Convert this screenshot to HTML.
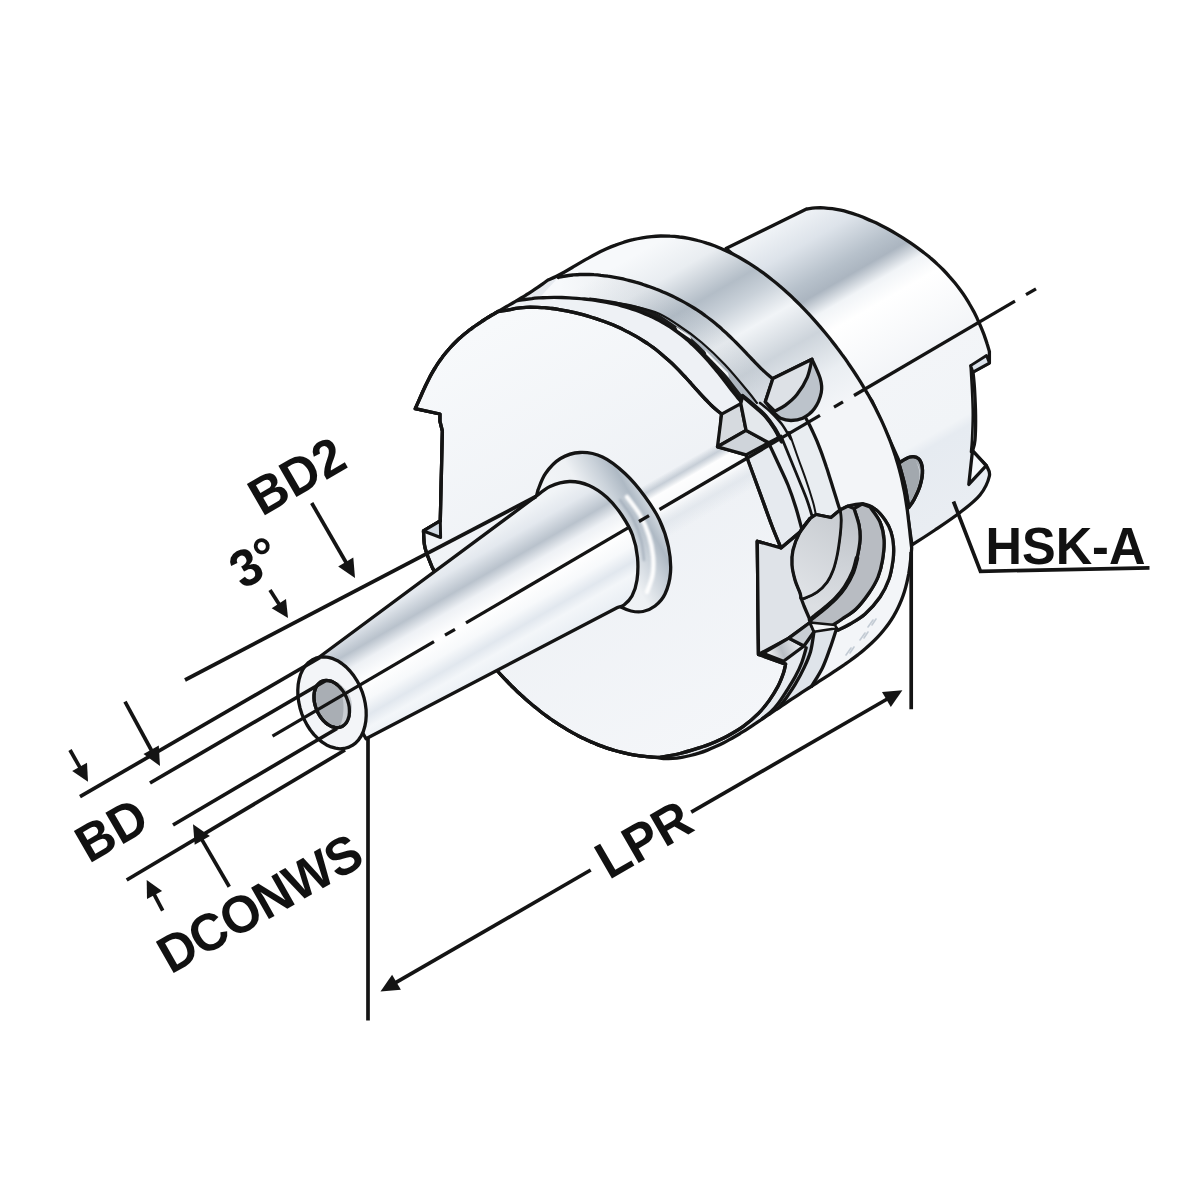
<!DOCTYPE html>
<html lang="en"><head><meta charset="utf-8"><title>HSK-A shrink fit chuck drawing</title>
<style>
html,body{margin:0;padding:0;background:#fff;}
body{width:1200px;height:1200px;overflow:hidden;}
svg{display:block;}
text{font-family:"Liberation Sans",sans-serif;font-weight:bold;fill:#111;}
</style></head><body>
<svg width="1200" height="1200" viewBox="0 0 1200 1200">
<rect width="1200" height="1200" fill="#fff"/>
<defs>
<linearGradient id="gShank" gradientUnits="userSpaceOnUse" x1="727" y1="249" x2="898" y2="545">
<stop offset="0" stop-color="#f2f5f8"/><stop offset="0.10" stop-color="#dde3ea"/><stop offset="0.20" stop-color="#b7c1cb"/><stop offset="0.245" stop-color="#abb5c0"/>
<stop offset="0.30" stop-color="#f1f4f7"/><stop offset="0.36" stop-color="#ffffff"/><stop offset="0.55" stop-color="#f3f5f8"/><stop offset="0.77" stop-color="#f1f4f7"/><stop offset="0.80" stop-color="#e6ebf1"/><stop offset="1" stop-color="#e9edf2"/></linearGradient>
<linearGradient id="gRear" gradientUnits="userSpaceOnUse" x1="600" y1="275" x2="716.5" y2="476.8">
<stop offset="0" stop-color="#f7f9fb"/><stop offset="0.15" stop-color="#e9edf1"/><stop offset="0.31" stop-color="#b3bdc7"/><stop offset="0.40" stop-color="#c9d1d9"/>
<stop offset="0.52" stop-color="#f1f4f7"/><stop offset="0.68" stop-color="#cdd4db"/><stop offset="0.85" stop-color="#eaeef2"/><stop offset="1" stop-color="#f3f5f8"/></linearGradient>
<linearGradient id="gNose" gradientUnits="userSpaceOnUse" x1="445" y1="554" x2="515" y2="675.2">
<stop offset="0" stop-color="#f1f4f7"/><stop offset="0.13" stop-color="#e3e8ee"/><stop offset="0.27" stop-color="#b9c2cc"/><stop offset="0.37" stop-color="#eef1f5"/>
<stop offset="0.5" stop-color="#ffffff"/><stop offset="0.62" stop-color="#f7f9fb"/><stop offset="0.72" stop-color="#e1e7ee"/><stop offset="0.80" stop-color="#f3f6f9"/><stop offset="1" stop-color="#e4eaf1"/></linearGradient>
<linearGradient id="gCollar" gradientUnits="userSpaceOnUse" x1="545" y1="560" x2="657.6" y2="495">
<stop offset="0" stop-color="#f6f8fa"/><stop offset="0.51" stop-color="#eef1f4"/><stop offset="0.70" stop-color="#c9d1d9"/><stop offset="0.82" stop-color="#aeb9c4"/><stop offset="0.92" stop-color="#d3dae1"/><stop offset="1" stop-color="#eceff3"/></linearGradient>
<linearGradient id="gFace" gradientUnits="userSpaceOnUse" x1="480" y1="330" x2="700" y2="750">
<stop offset="0" stop-color="#f7f9fb"/><stop offset="0.5" stop-color="#eef1f5"/><stop offset="1" stop-color="#f4f6f9"/></linearGradient>
<linearGradient id="gGroove" gradientUnits="userSpaceOnUse" x1="560" y1="290" x2="640" y2="290">
<stop offset="0" stop-color="#9aa4ae" stop-opacity="0"/><stop offset="1" stop-color="#9aa4ae" stop-opacity="0.15"/></linearGradient>
<linearGradient id="gDisc" gradientUnits="userSpaceOnUse" x1="795" y1="590" x2="840" y2="520">
<stop offset="0" stop-color="#dfe2e6"/><stop offset="1" stop-color="#c9cdd2"/></linearGradient>
<linearGradient id="gWall" gradientUnits="userSpaceOnUse" x1="850" y1="510" x2="830" y2="610">
<stop offset="0" stop-color="#bcc0c6"/><stop offset="0.5" stop-color="#cdd1d6"/><stop offset="1" stop-color="#dcdfe3"/></linearGradient>
<linearGradient id="gFloor" gradientUnits="userSpaceOnUse" x1="765" y1="655" x2="800" y2="640">
<stop offset="0" stop-color="#ffffff"/><stop offset="0.45" stop-color="#b9bec4"/><stop offset="1" stop-color="#eef0f3"/></linearGradient>
<linearGradient id="gRefl" gradientUnits="userSpaceOnUse" x1="706" y1="435" x2="741" y2="495.6">
<stop offset="0" stop-color="#bcc5cf" stop-opacity="0"/><stop offset="0.18" stop-color="#bcc5cf" stop-opacity="0"/><stop offset="0.29" stop-color="#bcc5cf" stop-opacity="0.8"/>
<stop offset="0.40" stop-color="#ffffff" stop-opacity="0.9"/><stop offset="0.62" stop-color="#ffffff" stop-opacity="0.6"/><stop offset="0.8" stop-color="#d5dce4" stop-opacity="0.45"/><stop offset="1" stop-color="#d5dce4" stop-opacity="0"/></linearGradient>
<filter id="fBlur" x="-20%" y="-20%" width="140%" height="140%"><feGaussianBlur stdDeviation="1.1"/></filter>
</defs>
<path d="M726 248.5 L806.5 209 C808 208.8 812.4 208.1 815.3 207.9 C818.2 207.7 821 207.7 823.9 207.8 C826.7 208 829.6 208.3 832.4 208.7 C835.2 209.1 837.9 209.6 840.7 210.2 C843.5 210.8 846.2 211.6 848.9 212.4 C851.7 213.2 854.4 214.1 857.1 215 C859.7 216 862.4 217 865.1 218.1 C867.7 219.2 870.4 220.4 873 221.6 C875.6 222.7 878.2 224 880.7 225.3 C883.3 226.6 885.9 227.9 888.4 229.3 C890.9 230.7 893.4 232.1 895.9 233.6 C898.4 235.1 900.9 236.6 903.3 238.1 C905.7 239.6 908.1 241.2 910.5 242.8 C912.9 244.4 915.2 246.1 917.5 247.8 C919.8 249.5 922.1 251.2 924.3 253 C926.6 254.7 928.8 256.5 930.9 258.4 C933.1 260.2 935.2 262.1 937.3 264.1 C939.4 266 941.4 268 943.4 270 C945.4 272.1 947.3 274.1 949.2 276.3 C951.1 278.4 953 280.6 954.8 282.8 C956.6 285 958.3 287.3 960 289.6 C961.7 291.9 963.4 294.2 965 296.7 C966.5 299.1 968.1 301.5 969.5 304 C971 306.5 972.4 309 973.8 311.6 C975.1 314.2 976.4 316.8 977.6 319.4 C978.9 322 980 324.7 981.1 327.4 C982.2 330 983.3 332.7 984.3 335.4 C985.2 338.1 986.2 340.8 987 343.5 C987.9 346.2 989 350.2 989.4 351.5 L989.4 363 L973 372 C973.3 375 974.2 382.8 974.6 390 C975 397.2 975.5 406.7 975.6 415 C975.7 423.3 975.5 434 975 440 C974.5 446 972.9 449.2 972.5 451 L986.5 465.6 C987 467.3 990.5 471.1 989.4 476 C988.3 480.9 984.9 488.9 980 495 C975.1 501.1 967.5 506.7 960 512.5 C952.5 518.3 943 524.6 935 530 C927 535.4 915.8 542.5 912 545 L900 463 L872 401 L818.8 326Z" fill="url(#gShank)" stroke="#141414" stroke-width="3.3" stroke-linejoin="round" stroke-linecap="round" />
<path d="M970.6 365.6 L986.5 355.5 L989.4 363 L973 372Z" fill="#dbe2ea" stroke="#141414" stroke-width="2.8" stroke-linejoin="round" stroke-linecap="round" />
<path d="M970.6 365.6 C970.8 369.7 971.6 381.8 972 390 C972.4 398.2 972.8 406.7 972.8 415 C972.8 423.3 972.3 433.8 972 440 C971.7 446.2 971.2 450 971 452" fill="none" stroke="#141414" stroke-width="2.6" stroke-linecap="round" stroke-linejoin="round" />
<path d="M972.5 450.6 L986.2 465.6 L968.8 484.4Z" fill="#f7f9fb" stroke="#141414" stroke-width="3.3" stroke-linejoin="round" stroke-linecap="round" />
<path d="M415.3 408.7 C415.7 407.7 417 404.9 417.9 402.9 C418.8 401 419.6 399 420.5 397 C421.4 395 422.2 393 423.1 391 C424.1 389 425 387 425.9 385 C426.9 383 427.9 381 428.9 379 C429.9 377 430.9 375.1 432 373.2 C433.1 371.2 434.2 369.3 435.4 367.5 C436.5 365.6 437.7 363.8 439 361.9 C440.2 360.1 441.5 358.4 442.8 356.6 C444.1 354.9 445.5 353.2 446.9 351.5 C448.3 349.9 449.7 348.2 451.2 346.6 C452.7 345 454.2 343.5 455.7 342 C457.3 340.5 458.9 339 460.5 337.6 C462.1 336.1 463.8 334.7 465.5 333.3 C467.2 332 468.9 330.6 470.6 329.3 C472.4 328 474.1 326.7 475.9 325.5 C477.7 324.2 479.5 323 481.3 321.8 C483.2 320.6 485 319.4 486.9 318.2 C488.7 317.1 490.6 315.9 492.5 314.8 C494.3 313.7 496.2 312.6 498.1 311.5 C500 310.3 501.9 309.2 503.8 308.1 C505.7 307 507.6 306 509.5 304.9 C511.4 303.8 513.3 302.7 515.1 301.6 C517 300.5 518.9 299.3 520.7 298.2 C522.6 297.1 524.5 296 526.3 294.8 C528.2 293.7 530 292.5 531.8 291.3 C533.7 290.1 535.5 288.9 537.3 287.7 C539.1 286.5 540.9 285.2 542.7 283.9 C544.4 282.6 547.1 280.7 548 280 C549.3 279.4 553.4 277.7 556 276.4 C558.7 275.1 561.4 273.7 564.1 272.2 C566.7 270.7 569.4 269.1 572.2 267.5 C574.9 265.9 577.6 264.2 580.4 262.6 C583.1 261 585.9 259.4 588.8 257.9 C591.6 256.3 594.4 254.8 597.3 253.3 C600.2 251.8 603.1 250.4 606 249.1 C608.9 247.8 611.9 246.5 614.9 245.4 C617.9 244.2 620.9 243.2 623.9 242.2 C626.9 241.3 630 240.4 633 239.7 C636.1 238.9 639.1 238.3 642.2 237.8 C645.3 237.3 648.4 236.9 651.5 236.6 C654.6 236.3 657.7 236.1 660.8 236 C663.9 236 667 236 670.1 236.2 C673.2 236.3 676.3 236.6 679.4 237 C682.5 237.3 685.5 237.8 688.6 238.4 C691.7 239 694.7 239.7 697.7 240.5 C700.7 241.2 703.7 242.1 706.7 243.1 C709.7 244 712.6 245.1 715.6 246.2 C718.5 247.4 721.4 248.6 724.2 249.9 C727.1 251.2 730 252.5 732.8 254 C735.6 255.4 738.4 256.9 741.1 258.5 C743.8 260.1 746.5 261.7 749.2 263.4 C751.9 265.1 754.5 266.8 757.2 268.6 C759.8 270.4 762.3 272.3 764.9 274.1 C767.4 276 769.9 278 772.4 280 C774.9 281.9 777.3 283.9 779.7 286 C782.1 288 784.5 290.1 786.8 292.3 C789.2 294.4 791.5 296.5 793.7 298.7 C796 300.9 798.3 303.1 800.5 305.3 C802.7 307.6 804.9 309.8 807 312.1 C809.2 314.4 811.3 316.7 813.4 319.1 C815.5 321.4 817.5 323.7 819.6 326.1 C821.6 328.5 823.6 330.9 825.6 333.3 C827.6 335.7 829.6 338.1 831.5 340.6 C833.5 343.1 835.4 345.5 837.2 348 C839.1 350.5 841 353 842.8 355.6 C844.7 358.1 846.5 360.6 848.2 363.2 C850 365.8 851.8 368.4 853.5 371 C855.2 373.6 856.9 376.2 858.6 378.9 C860.3 381.5 861.9 384.2 863.5 386.9 C865.2 389.6 866.7 392.3 868.3 395 C869.8 397.7 871.4 400.5 872.8 403.3 C874.3 406 875.8 408.8 877.2 411.7 C878.6 414.5 880 417.3 881.3 420.2 C882.6 423 883.9 425.9 885.2 428.8 C886.4 431.7 887.6 434.6 888.8 437.5 C889.9 440.5 891.1 443.4 892.1 446.4 C893.2 449.4 894.2 452.4 895.2 455.4 C896.1 458.4 897.1 461.4 897.9 464.4 C898.8 467.5 899.6 470.5 900.4 473.6 C901.2 476.6 901.9 479.7 902.5 482.8 C903.2 485.9 903.8 488.9 904.4 492 C905 495.1 905.5 498.2 906 501.4 C906.5 504.5 906.9 507.6 907.4 510.7 C907.8 513.8 908.1 516.9 908.5 520 C908.9 523.2 909.2 526.3 909.6 529.4 C909.9 532.5 910.2 535.6 910.6 538.7 C910.9 541.8 911.5 546.5 911.7 548 C911.6 549.4 911.3 553.5 911 556.4 C910.7 559.2 910.4 562.2 910 565.1 C909.6 568.1 909.2 571.1 908.7 574 C908.1 577 907.5 580 906.8 582.9 C906.1 585.9 905.3 588.8 904.4 591.7 C903.5 594.5 902.5 597.4 901.4 600.2 C900.3 602.9 899.1 605.7 897.8 608.3 C896.5 611 895.1 613.6 893.6 616.1 C892.1 618.6 890.5 621.1 888.8 623.5 C887.1 625.9 885.3 628.2 883.4 630.5 C881.6 632.8 879.6 635 877.6 637.1 C875.6 639.2 873.5 641.3 871.4 643.3 C869.2 645.4 867 647.3 864.7 649.2 C862.5 651.2 860.2 653 857.8 654.9 C855.5 656.7 853.1 658.5 850.7 660.2 C848.3 662 845.8 663.7 843.4 665.4 C840.9 667.1 838.4 668.8 835.9 670.4 C833.4 672.1 830.9 673.7 828.4 675.4 C825.9 677 823.4 678.6 820.9 680.2 C818.3 681.8 815.8 683.5 813.3 685.1 C810.8 686.7 808.3 688.3 805.8 689.9 C803.3 691.5 800.8 693.1 798.3 694.8 C795.9 696.4 793.4 698 790.9 699.6 C788.5 701.3 786 702.9 783.6 704.6 C781.1 706.2 778.7 707.9 776.2 709.5 C773.8 711.2 771.4 712.9 768.9 714.5 C766.5 716.2 764 717.8 761.6 719.5 C759.2 721.1 756.7 722.8 754.2 724.4 C751.8 726 749.3 727.7 746.8 729.3 C744.3 730.9 741.8 732.4 739.3 734 C736.7 735.5 734.2 737 731.6 738.5 C729 739.9 726.4 741.4 723.8 742.7 C721.1 744.1 718.4 745.4 715.7 746.6 C713 747.8 710.3 749 707.5 750.1 C704.7 751.2 701.9 752.2 699 753.1 C696.2 754 693.3 754.8 690.4 755.5 C687.5 756.2 684.6 756.8 681.7 757.3 C678.7 757.8 675.8 758.2 672.8 758.4 C669.9 758.6 665.5 758.7 664 758.7 C662.2 758.4 656.3 757.4 653.4 757.1 C650.6 756.8 649.1 756.8 646.9 756.6 C644.7 756.4 642.5 756.2 640.4 755.9 C638.2 755.6 636.1 755.3 633.9 754.9 C631.8 754.5 629.6 754.1 627.5 753.7 C625.4 753.2 623.3 752.7 621.2 752.2 C619.1 751.7 617 751.1 614.9 750.5 C612.8 749.9 610.7 749.3 608.7 748.6 C606.6 747.9 604.5 747.2 602.5 746.4 C600.5 745.7 598.4 744.9 596.4 744.1 C594.4 743.3 592.4 742.4 590.4 741.6 C588.4 740.7 586.4 739.8 584.5 738.8 C582.5 737.9 580.6 736.9 578.6 735.9 C576.7 734.9 574.8 733.9 572.9 732.9 C571 731.8 569.1 730.7 567.2 729.6 C565.3 728.5 563.5 727.4 561.6 726.2 C559.8 725.1 557.9 723.9 556.1 722.7 C554.3 721.5 552.5 720.2 550.7 719 C548.9 717.7 547.2 716.5 545.4 715.2 C543.7 713.9 541.9 712.5 540.2 711.2 C538.5 709.9 536.8 708.5 535.1 707.1 C533.4 705.8 531.7 704.4 530.1 702.9 C528.4 701.5 526.8 700.1 525.2 698.7 C523.5 697.2 521.9 695.7 520.3 694.3 C518.7 692.8 517.1 691.3 515.6 689.8 C514 688.3 512.5 686.7 510.9 685.2 C509.4 683.7 507.9 682.1 506.4 680.5 C504.9 679 503.4 677.4 501.9 675.8 C500.4 674.2 498.2 671.8 497.5 671 L432.5 568 C431.6 565.7 428.3 557.8 427 554 C425.7 550.2 425.1 548.8 424.5 545 C423.9 541.2 423.7 533.3 423.5 531 L440.3 521 L442.4 431 L440 421.3 L440 414Z" fill="#e6eaef" stroke="none" />
<path d="M558.3 277.5 C559.5 277.3 563.2 276.4 565.6 276 C568 275.6 570.4 275.3 572.8 275 C575.2 274.8 577.5 274.6 579.9 274.5 C582.2 274.4 584.6 274.4 586.9 274.4 C589.3 274.5 591.6 274.5 593.9 274.7 C596.3 274.8 598.6 275 600.9 275.3 C603.2 275.5 605.6 275.8 607.9 276.2 C610.2 276.5 612.5 276.9 614.8 277.3 C617.1 277.7 619.4 278.2 621.7 278.7 C624 279.2 626.3 279.8 628.6 280.3 C630.9 280.9 633.2 281.5 635.5 282.2 C637.7 282.8 640 283.5 642.3 284.2 C644.5 285 646.8 285.7 649 286.5 C651.3 287.3 653.5 288.1 655.8 289 C658 289.8 660.2 290.7 662.4 291.7 C664.6 292.6 666.8 293.5 668.9 294.5 C671.1 295.5 673.3 296.5 675.4 297.6 C677.5 298.7 679.6 299.8 681.7 300.9 C683.8 302 685.9 303.2 687.9 304.4 C690 305.6 692 306.8 694 308 C696 309.3 698 310.6 700 311.9 C701.9 313.3 703.8 314.6 705.7 316 C707.7 317.4 709.5 318.8 711.4 320.3 C713.2 321.7 715.1 323.2 716.9 324.7 C718.7 326.3 720.5 327.8 722.2 329.4 C724 330.9 725.8 332.5 727.5 334.2 C729.2 335.8 730.9 337.4 732.6 339.1 C734.3 340.7 735.9 342.4 737.6 344.1 C739.3 345.8 740.9 347.5 742.5 349.2 C744.2 350.9 745.8 352.7 747.4 354.4 C749.1 356.1 750.7 357.8 752.3 359.5 C754 361.2 755.6 362.9 757.3 364.6 C759 366.3 760.6 368 762.3 369.6 C764.1 371.3 765.8 372.9 767.6 374.4 C769.3 376 772.1 378.2 773 379 L812 359 L821 396 L805 416.7 C805.7 418 808 422 809.4 424.7 C810.7 427.4 812.1 430.2 813.3 432.9 C814.6 435.7 815.8 438.4 817 441.2 C818.1 444 819.2 446.8 820.3 449.7 C821.4 452.5 822.4 455.3 823.4 458.2 C824.4 461 825.4 463.9 826.3 466.8 C827.3 469.6 828.2 472.5 829.1 475.4 C830 478.3 830.9 481.2 831.8 484 C832.7 486.9 833.6 489.8 834.5 492.7 C835.4 495.6 836.3 498.5 837.2 501.4 C838.1 504.3 839.5 508.6 840 510 L863 504 L893 560 L880 597 L836.7 628 C835.9 631.1 834 640.2 831.7 646.7 C829.4 653.2 826.3 660 823 666.7 C819.7 673.4 813.6 683.4 811.7 686.7 C813.6 685.6 818.3 683.5 823 680 C827.7 676.5 833.8 670.5 840 666 C846.2 661.5 854 657.5 860 653 C866 648.5 871.3 643.8 876 639 C880.7 634.2 884.3 629.3 888 624 C891.7 618.7 895.2 612.7 898 607 C900.8 601.3 903.2 595.3 905 590 C906.8 584.7 907.4 582 908.5 575 C909.6 568 911.2 552.5 911.7 548 C911.5 546.5 910.9 541.8 910.6 538.7 C910.2 535.6 909.9 532.5 909.6 529.4 C909.2 526.3 908.9 523.2 908.5 520 C908.1 516.9 907.8 513.8 907.4 510.7 C906.9 507.6 906.5 504.5 906 501.4 C905.5 498.2 905 495.1 904.4 492 C903.8 488.9 903.2 485.9 902.5 482.8 C901.9 479.7 901.2 476.6 900.4 473.6 C899.6 470.5 898.8 467.5 897.9 464.4 C897.1 461.4 896.1 458.4 895.2 455.4 C894.2 452.4 893.2 449.4 892.1 446.4 C891.1 443.4 889.9 440.5 888.8 437.5 C887.6 434.6 886.4 431.7 885.2 428.8 C883.9 425.9 882.6 423 881.3 420.2 C880 417.3 878.6 414.5 877.2 411.7 C875.8 408.8 874.3 406 872.8 403.3 C871.4 400.5 869.8 397.7 868.3 395 C866.7 392.3 865.2 389.6 863.5 386.9 C861.9 384.2 860.3 381.5 858.6 378.9 C856.9 376.2 855.2 373.6 853.5 371 C851.8 368.4 850 365.8 848.2 363.2 C846.5 360.6 844.7 358.1 842.8 355.6 C841 353 839.1 350.5 837.2 348 C835.4 345.5 833.5 343.1 831.5 340.6 C829.6 338.1 827.6 335.7 825.6 333.3 C823.6 330.9 821.6 328.5 819.6 326.1 C817.5 323.7 815.5 321.4 813.4 319.1 C811.3 316.7 809.2 314.4 807 312.1 C804.9 309.8 802.7 307.6 800.5 305.3 C798.3 303.1 796 300.9 793.7 298.7 C791.5 296.5 789.2 294.4 786.8 292.3 C784.5 290.1 782.1 288 779.7 286 C777.3 283.9 774.9 281.9 772.4 280 C769.9 278 767.4 276 764.9 274.1 C762.3 272.3 759.8 270.4 757.2 268.6 C754.5 266.8 751.9 265.1 749.2 263.4 C746.5 261.7 743.8 260.1 741.1 258.5 C738.4 256.9 735.6 255.4 732.8 254 C730 252.5 727.1 251.2 724.2 249.9 C721.4 248.6 718.5 247.4 715.6 246.2 C712.6 245.1 709.7 244 706.7 243.1 C703.7 242.1 700.7 241.2 697.7 240.5 C694.7 239.7 691.7 239 688.6 238.4 C685.5 237.8 682.5 237.3 679.4 237 C676.3 236.6 673.2 236.3 670.1 236.2 C667 236 663.9 236 660.8 236 C657.7 236.1 654.6 236.3 651.5 236.6 C648.4 236.9 645.3 237.3 642.2 237.8 C639.1 238.3 636.1 238.9 633 239.7 C630 240.4 626.9 241.3 623.9 242.2 C620.9 243.2 617.9 244.2 614.9 245.4 C611.9 246.5 608.9 247.8 606 249.1 C603.1 250.4 600.2 251.8 597.3 253.3 C594.4 254.8 591.6 256.3 588.8 257.9 C585.9 259.4 583.1 261 580.4 262.6 C577.6 264.2 574.9 265.9 572.2 267.5 C569.4 269.1 566.7 270.7 564.1 272.2 C561.4 273.7 557.4 275.7 556 276.4Z" fill="url(#gRear)" stroke="none" />
<path d="M539.3 297.9 C540.6 297.9 544.3 297.7 546.8 297.6 C549.3 297.5 551.8 297.4 554.3 297.4 C556.8 297.4 559.3 297.4 561.8 297.5 C564.3 297.6 566.8 297.7 569.3 297.8 C571.9 297.9 574.4 298.1 576.9 298.3 C579.4 298.5 581.9 298.7 584.4 299 C586.9 299.3 589.4 299.6 592 299.9 C594.5 300.2 597 300.6 599.4 301 C601.9 301.4 604.4 301.9 606.9 302.4 C609.3 302.9 611.8 303.4 614.2 304 C616.7 304.5 619.1 305.1 621.5 305.8 C623.9 306.5 626.3 307.2 628.7 307.9 C631.1 308.6 633.5 309.4 635.8 310.3 C638.1 311.1 640.5 312 642.8 312.9 C645 313.8 647.3 314.8 649.6 315.8 C651.8 316.9 654 317.9 656.2 319.1 C658.4 320.2 660.6 321.4 662.7 322.6 C664.9 323.8 667 325.1 669.1 326.4 C671.2 327.8 673.2 329.1 675.3 330.6 C677.3 332 679.3 333.5 681.2 335 C683.2 336.6 685.2 338.1 687.1 339.8 C689 341.4 690.8 343.1 692.7 344.8 C694.5 346.5 696.4 348.3 698.1 350 C699.9 351.8 701.7 353.7 703.4 355.5 C705.2 357.4 706.9 359.3 708.5 361.2 C710.2 363.2 711.9 365.1 713.5 367.1 C715.2 369.1 716.8 371.1 718.4 373 C720 375 721.5 377 723.1 379 C724.6 381 726.2 383 727.7 385 C729.3 387 730.8 389 732.3 390.9 C733.8 392.8 735.3 394.7 736.8 396.6 C738.4 398.4 740.6 401.1 741.4 402 L742.6 396 L765.3 415.8 L773 379 C772.1 378.2 769.3 376 767.6 374.4 C765.8 372.9 764.1 371.3 762.3 369.6 C760.6 368 759 366.3 757.3 364.6 C755.6 362.9 754 361.2 752.3 359.5 C750.7 357.8 749.1 356.1 747.4 354.4 C745.8 352.7 744.2 350.9 742.5 349.2 C740.9 347.5 739.3 345.8 737.6 344.1 C735.9 342.4 734.3 340.7 732.6 339.1 C730.9 337.4 729.2 335.8 727.5 334.2 C725.8 332.5 724 330.9 722.2 329.4 C720.5 327.8 718.7 326.3 716.9 324.7 C715.1 323.2 713.2 321.7 711.4 320.3 C709.5 318.8 707.7 317.4 705.7 316 C703.8 314.6 701.9 313.3 700 311.9 C698 310.6 696 309.3 694 308 C692 306.8 690 305.6 687.9 304.4 C685.9 303.2 683.8 302 681.7 300.9 C679.6 299.8 677.5 298.7 675.4 297.6 C673.3 296.5 671.1 295.5 668.9 294.5 C666.8 293.5 664.6 292.6 662.4 291.7 C660.2 290.7 658 289.8 655.8 289 C653.5 288.1 651.3 287.3 649 286.5 C646.8 285.7 644.5 285 642.3 284.2 C640 283.5 637.7 282.8 635.5 282.2 C633.2 281.5 630.9 280.9 628.6 280.3 C626.3 279.8 624 279.2 621.7 278.7 C619.4 278.2 617.1 277.7 614.8 277.3 C612.5 276.9 610.2 276.5 607.9 276.2 C605.6 275.8 603.2 275.5 600.9 275.3 C598.6 275 596.3 274.8 593.9 274.7 C591.6 274.5 589.3 274.5 586.9 274.4 C584.6 274.4 582.2 274.4 579.9 274.5 C577.5 274.6 575.2 274.8 572.8 275 C570.4 275.3 568 275.6 565.6 276 C563.2 276.4 559.5 277.3 558.3 277.5Z" fill="url(#gRear)" stroke="none" />
<path d="M539.3 297.9 C540.6 297.9 544.3 297.7 546.8 297.6 C549.3 297.5 551.8 297.4 554.3 297.4 C556.8 297.4 559.3 297.4 561.8 297.5 C564.3 297.6 566.8 297.7 569.3 297.8 C571.9 297.9 574.4 298.1 576.9 298.3 C579.4 298.5 581.9 298.7 584.4 299 C586.9 299.3 589.4 299.6 592 299.9 C594.5 300.2 597 300.6 599.4 301 C601.9 301.4 604.4 301.9 606.9 302.4 C609.3 302.9 611.8 303.4 614.2 304 C616.7 304.5 619.1 305.1 621.5 305.8 C623.9 306.5 626.3 307.2 628.7 307.9 C631.1 308.6 633.5 309.4 635.8 310.3 C638.1 311.1 640.5 312 642.8 312.9 C645 313.8 647.3 314.8 649.6 315.8 C651.8 316.9 654 317.9 656.2 319.1 C658.4 320.2 660.6 321.4 662.7 322.6 C664.9 323.8 667 325.1 669.1 326.4 C671.2 327.8 673.2 329.1 675.3 330.6 C677.3 332 679.3 333.5 681.2 335 C683.2 336.6 685.2 338.1 687.1 339.8 C689 341.4 690.8 343.1 692.7 344.8 C694.5 346.5 696.4 348.3 698.1 350 C699.9 351.8 701.7 353.7 703.4 355.5 C705.2 357.4 706.9 359.3 708.5 361.2 C710.2 363.2 711.9 365.1 713.5 367.1 C715.2 369.1 716.8 371.1 718.4 373 C720 375 721.5 377 723.1 379 C724.6 381 726.2 383 727.7 385 C729.3 387 730.8 389 732.3 390.9 C733.8 392.8 735.3 394.7 736.8 396.6 C738.4 398.4 740.6 401.1 741.4 402 L742.6 396 L765.3 415.8 L773 379 C772.1 378.2 769.3 376 767.6 374.4 C765.8 372.9 764.1 371.3 762.3 369.6 C760.6 368 759 366.3 757.3 364.6 C755.6 362.9 754 361.2 752.3 359.5 C750.7 357.8 749.1 356.1 747.4 354.4 C745.8 352.7 744.2 350.9 742.5 349.2 C740.9 347.5 739.3 345.8 737.6 344.1 C735.9 342.4 734.3 340.7 732.6 339.1 C730.9 337.4 729.2 335.8 727.5 334.2 C725.8 332.5 724 330.9 722.2 329.4 C720.5 327.8 718.7 326.3 716.9 324.7 C715.1 323.2 713.2 321.7 711.4 320.3 C709.5 318.8 707.7 317.4 705.7 316 C703.8 314.6 701.9 313.3 700 311.9 C698 310.6 696 309.3 694 308 C692 306.8 690 305.6 687.9 304.4 C685.9 303.2 683.8 302 681.7 300.9 C679.6 299.8 677.5 298.7 675.4 297.6 C673.3 296.5 671.1 295.5 668.9 294.5 C666.8 293.5 664.6 292.6 662.4 291.7 C660.2 290.7 658 289.8 655.8 289 C653.5 288.1 651.3 287.3 649 286.5 C646.8 285.7 644.5 285 642.3 284.2 C640 283.5 637.7 282.8 635.5 282.2 C633.2 281.5 630.9 280.9 628.6 280.3 C626.3 279.8 624 279.2 621.7 278.7 C619.4 278.2 617.1 277.7 614.8 277.3 C612.5 276.9 610.2 276.5 607.9 276.2 C605.6 275.8 603.2 275.5 600.9 275.3 C598.6 275 596.3 274.8 593.9 274.7 C591.6 274.5 589.3 274.5 586.9 274.4 C584.6 274.4 582.2 274.4 579.9 274.5 C577.5 274.6 575.2 274.8 572.8 275 C570.4 275.3 568 275.6 565.6 276 C563.2 276.4 559.5 277.3 558.3 277.5Z" fill="url(#gGroove)" stroke="none" />
<path d="M592 299.9 C593.2 300.1 597 300.6 599.4 301 C601.9 301.4 604.4 301.9 606.9 302.4 C609.3 302.9 611.8 303.4 614.2 304 C616.7 304.5 619.1 305.1 621.5 305.8 C623.9 306.5 626.3 307.2 628.7 307.9 C631.1 308.6 633.5 309.4 635.8 310.3 C638.1 311.1 640.5 312 642.8 312.9 C645 313.8 647.3 314.8 649.6 315.8 C651.8 316.9 654 317.9 656.2 319.1 C658.4 320.2 660.6 321.4 662.7 322.6 C664.9 323.8 667 325.1 669.1 326.4 C671.2 327.8 673.2 329.1 675.3 330.6 C677.3 332 679.3 333.5 681.2 335 C683.2 336.6 685.2 338.1 687.1 339.8 C689 341.4 690.8 343.1 692.7 344.8 C694.5 346.5 696.4 348.3 698.1 350 C699.9 351.8 701.7 353.7 703.4 355.5 C705.2 357.4 706.9 359.3 708.5 361.2 C710.2 363.2 711.9 365.1 713.5 367.1 C715.2 369.1 716.8 371.1 718.4 373 C720 375 721.5 377 723.1 379 C724.6 381 726.2 383 727.7 385 C729.3 387 730.8 389 732.3 390.9 C733.8 392.8 735.3 394.7 736.8 396.6 C738.4 398.4 740.6 401.1 741.4 402 L757 403 C755.5 401.1 753.3 397.9 748 391.5 C742.7 385.1 732.7 372.9 725 364.7 C717.3 356.5 709.5 349.1 701.7 342.5 C693.9 335.9 685.8 330.1 678 325 C670.2 319.9 664.7 315.6 655 312 C645.3 308.4 630.8 305.8 620 303.5 C609.2 301.2 595 299.3 590 298.5Z" fill="#aeb6bf" stroke="none" />
<path d="M592 299.9 C593.2 300.1 597 300.6 599.4 301 C601.9 301.4 604.4 301.9 606.9 302.4 C609.3 302.9 611.8 303.4 614.2 304 C616.7 304.5 619.1 305.1 621.5 305.8 C623.9 306.5 626.3 307.2 628.7 307.9 C631.1 308.6 633.5 309.4 635.8 310.3 C638.1 311.1 640.5 312 642.8 312.9 C645 313.8 647.3 314.8 649.6 315.8 C651.8 316.9 654 317.9 656.2 319.1 C658.4 320.2 660.6 321.4 662.7 322.6 C664.9 323.8 667 325.1 669.1 326.4 C671.2 327.8 673.2 329.1 675.3 330.6 C677.3 332 679.3 333.5 681.2 335 C683.2 336.6 685.2 338.1 687.1 339.8 C689 341.4 690.8 343.1 692.7 344.8 C694.5 346.5 696.4 348.3 698.1 350 C699.9 351.8 701.7 353.7 703.4 355.5 C705.2 357.4 706.9 359.3 708.5 361.2 C710.2 363.2 711.9 365.1 713.5 367.1 C715.2 369.1 716.8 371.1 718.4 373 C720 375 721.5 377 723.1 379 C724.6 381 726.2 383 727.7 385 C729.3 387 730.8 389 732.3 390.9 C733.8 392.8 735.3 394.7 736.8 396.6 C738.4 398.4 740.6 401.1 741.4 402 L745 399 C743.8 397.5 741.3 394.2 738 390 C734.7 385.8 730.1 379.5 725 373.5 C719.9 367.5 713.3 360.1 707.5 354 C701.7 347.9 695.8 342.1 690 337 C684.2 331.9 678.3 327.6 672.5 323.5 C666.7 319.4 660.8 315.4 655 312.5 C649.2 309.6 643.3 307.7 637.5 306 C631.7 304.3 625.1 303.1 620 302.3 C614.9 301.5 611.7 301.5 606.7 301 C601.7 300.5 592.8 299.5 590 299.2Z" fill="#1a1a1a" stroke="none" />
<path d="M590 298.5 C595 299.3 609.2 301.2 620 303.5 C630.8 305.8 645.3 308.4 655 312 C664.7 315.6 670.2 319.9 678 325 C685.8 330.1 693.9 335.9 701.7 342.5 C709.5 349.1 717.3 356.5 725 364.7 C732.7 372.9 742.7 385.1 748 391.5 C753.3 397.9 755.5 401.1 757 403" fill="none" stroke="#141414" stroke-width="2.2" stroke-linecap="round" stroke-linejoin="round" />
<path d="M676 326.5 L690 336 L691.5 339.5 L677.5 330Z" fill="#f4f6f8" stroke="none" />
<path d="M705 350 L728 373 L729 377.5 L706.5 354.5Z" fill="#f4f6f8" stroke="none" />
<path d="M768 441.7 C769.7 445.2 774.7 455.8 778 463 C781.3 470.2 785 477.5 788 485 C791 492.5 793.8 500.8 796 508 C798.2 515.2 800.6 524.7 801.5 528 L810 518.5 L816 514.5 L831 517.5 L840 510 C839.5 508.6 838.1 504.3 837.2 501.4 C836.3 498.5 835.4 495.6 834.5 492.7 C833.6 489.8 832.7 486.9 831.8 484 C830.9 481.2 830 478.3 829.1 475.4 C828.2 472.5 827.3 469.6 826.3 466.8 C825.4 463.9 824.4 461 823.4 458.2 C822.4 455.3 821.4 452.5 820.3 449.7 C819.2 446.8 818.1 444 817 441.2 C815.8 438.4 814.6 435.7 813.3 432.9 C812.1 430.2 810.7 427.4 809.4 424.7 C808 422 805.7 418 805 416.7 L785 420 L766 444Z" fill="#e9edf1" stroke="none" />
<path d="M781 436 C782.5 439.7 787 450.7 790 458 C793 465.3 796.2 473 799 480 C801.8 487 804.8 494 807 500 C809.2 506 811.2 513.3 812 516" fill="none" stroke="#141414" stroke-width="2.8" stroke-linecap="round" stroke-linejoin="round" />
<path d="M789 432 C790.3 435.8 794.2 447 797 455 C799.8 463 803.3 472.2 806 480 C808.7 487.8 811.4 496.5 813 502 C814.6 507.5 815.1 511.2 815.5 513" fill="none" stroke="#141414" stroke-width="2.0" stroke-linecap="round" stroke-linejoin="round" />
<path d="M501.3 312 C502.5 311.6 506.1 310.5 508.6 309.9 C511 309.3 513.4 308.8 515.8 308.4 C518.2 308.1 520.6 307.8 523 307.6 C525.4 307.4 527.8 307.3 530.2 307.2 C532.6 307.2 535 307.2 537.4 307.3 C539.9 307.4 542.3 307.5 544.7 307.7 C547.1 308 549.5 308.2 551.9 308.5 C554.3 308.8 556.7 309.2 559.2 309.6 C561.6 310 564 310.4 566.4 310.9 C568.8 311.4 571.2 311.9 573.6 312.4 C576 313 578.4 313.6 580.8 314.2 C583.1 314.8 585.5 315.5 587.9 316.2 C590.3 316.9 592.6 317.6 595 318.3 C597.3 319.1 599.6 319.9 601.9 320.7 C604.3 321.6 606.6 322.4 608.8 323.3 C611.1 324.2 613.4 325.1 615.6 326.1 C617.9 327.1 620.1 328.1 622.3 329.1 C624.5 330.2 626.7 331.3 628.8 332.4 C631 333.5 633.1 334.7 635.2 335.9 C637.3 337.1 639.4 338.3 641.4 339.6 C643.5 340.9 645.5 342.2 647.5 343.5 C649.5 344.9 651.5 346.3 653.4 347.7 C655.4 349.2 657.3 350.7 659.2 352.2 C661.1 353.7 662.9 355.3 664.7 356.9 C666.6 358.5 668.4 360.1 670.2 361.8 C672 363.4 673.7 365.1 675.5 366.9 C677.2 368.6 678.9 370.3 680.6 372.1 C682.3 373.9 684 375.7 685.7 377.5 C687.3 379.3 689 381.2 690.7 383 C692.3 384.9 694 386.7 695.6 388.6 C697.3 390.4 698.9 392.2 700.6 394.1 C702.2 395.9 703.9 397.7 705.6 399.5 C707.3 401.2 709 403 710.7 404.7 C712.5 406.4 714.2 408 716 409.6 C717.8 411.2 720.7 413.3 721.6 414.1 L741.4 402 C740.6 401.1 738.4 398.4 736.8 396.6 C735.3 394.7 733.8 392.8 732.3 390.9 C730.8 389 729.3 387 727.7 385 C726.2 383 724.6 381 723.1 379 C721.5 377 720 375 718.4 373 C716.8 371.1 715.2 369.1 713.5 367.1 C711.9 365.1 710.2 363.2 708.5 361.2 C706.9 359.3 705.2 357.4 703.4 355.5 C701.7 353.7 699.9 351.8 698.1 350 C696.4 348.3 694.5 346.5 692.7 344.8 C690.8 343.1 689 341.4 687.1 339.8 C685.2 338.1 683.2 336.6 681.2 335 C679.3 333.5 677.3 332 675.3 330.6 C673.2 329.1 671.2 327.8 669.1 326.4 C667 325.1 664.9 323.8 662.7 322.6 C660.6 321.4 658.4 320.2 656.2 319.1 C654 317.9 651.8 316.9 649.6 315.8 C647.3 314.8 645 313.8 642.8 312.9 C640.5 312 638.1 311.1 635.8 310.3 C633.5 309.4 631.1 308.6 628.7 307.9 C626.3 307.2 623.9 306.5 621.5 305.8 C619.1 305.1 616.7 304.5 614.2 304 C611.8 303.4 609.3 302.9 606.9 302.4 C604.4 301.9 601.9 301.4 599.4 301 C597 300.6 594.5 300.2 592 299.9 C589.4 299.6 586.9 299.3 584.4 299 C581.9 298.7 579.4 298.5 576.9 298.3 C574.4 298.1 571.9 297.9 569.3 297.8 C566.8 297.7 564.3 297.6 561.8 297.5 C559.3 297.4 556.8 297.4 554.3 297.4 C551.8 297.4 549.3 297.5 546.8 297.6 C544.3 297.7 541.8 297.8 539.3 297.9 C536.9 298.1 534.4 298.3 531.9 298.6 C529.5 298.8 527 299.1 524.6 299.5 C522.1 299.8 518.5 300.5 517.3 300.7Z" fill="#eef1f5" stroke="none" />
<path d="M836.7 628 C835.6 631.4 832.4 641.8 830 648.4 C827.6 655 825.5 661.6 822.4 667.9 C819.3 674.2 813.4 683.2 811.6 686.3 L779 707.5 C780.3 705.8 784 701.1 786.7 697.2 C789.4 693.3 792.4 689.1 795.3 684.2 C798.2 679.3 801.5 673.3 804 667.9 C806.5 662.5 808.8 657.7 810.5 651.7 C812.2 645.7 813.4 635 814 631.7Z" fill="#dfe4ea" stroke="none" />
<path d="M814 631.7 C813.4 635 812.2 645.7 810.5 651.7 C808.8 657.7 806.5 662.5 804 667.9 C801.5 673.3 798.2 679.3 795.3 684.2 C792.4 689.1 789.4 693.3 786.7 697.2 C784 701.1 780.3 705.8 779 707.5 L762 719 C763.4 717.9 767.7 714.8 770.4 712.3 C773.1 709.8 775.3 707.3 778 703.7 C780.7 700.1 783.8 695.2 786.7 690.7 C789.6 686.2 792.8 681.3 795.3 676.6 C797.8 671.9 800 667.3 801.8 662.5 C803.6 657.7 805.5 650.3 806.2 647.9Z" fill="#cdd4dc" stroke="none" />
<path d="M415.3 408.7 C415.7 407.7 417 404.9 417.9 402.9 C418.8 401 419.6 399 420.5 397 C421.4 395 422.2 393 423.1 391 C424.1 389 425 387 425.9 385 C426.9 383 427.9 381 428.9 379 C429.9 377 430.9 375.1 432 373.2 C433.1 371.2 434.2 369.3 435.4 367.5 C436.5 365.6 437.7 363.8 439 361.9 C440.2 360.1 441.5 358.4 442.8 356.6 C444.1 354.9 445.5 353.2 446.9 351.5 C448.3 349.9 449.7 348.2 451.2 346.6 C452.7 345 454.2 343.5 455.7 342 C457.3 340.5 458.9 339 460.5 337.6 C462.1 336.1 463.8 334.7 465.5 333.3 C467.2 332 468.9 330.6 470.6 329.3 C472.4 328 474.1 326.7 475.9 325.5 C477.7 324.2 479.5 323 481.3 321.8 C483.2 320.6 485 319.4 486.9 318.2 C488.7 317.1 490.6 315.9 492.5 314.8 C494.3 313.7 496.2 312.6 498.1 311.5 C500 310.3 501.9 309.2 503.8 308.1 C505.7 307 507.6 306 509.5 304.9 C511.4 303.8 513.3 302.7 515.1 301.6 C517 300.5 518.9 299.3 520.7 298.2 C522.6 297.1 524.5 296 526.3 294.8 C528.2 293.7 530 292.5 531.8 291.3 C533.7 290.1 535.5 288.9 537.3 287.7 C539.1 286.5 540.9 285.2 542.7 283.9 C544.4 282.6 547.1 280.7 548 280 C549.3 279.4 553.4 277.7 556 276.4 C558.7 275.1 561.4 273.7 564.1 272.2 C566.7 270.7 569.4 269.1 572.2 267.5 C574.9 265.9 577.6 264.2 580.4 262.6 C583.1 261 585.9 259.4 588.8 257.9 C591.6 256.3 594.4 254.8 597.3 253.3 C600.2 251.8 603.1 250.4 606 249.1 C608.9 247.8 611.9 246.5 614.9 245.4 C617.9 244.2 620.9 243.2 623.9 242.2 C626.9 241.3 630 240.4 633 239.7 C636.1 238.9 639.1 238.3 642.2 237.8 C645.3 237.3 648.4 236.9 651.5 236.6 C654.6 236.3 657.7 236.1 660.8 236 C663.9 236 667 236 670.1 236.2 C673.2 236.3 676.3 236.6 679.4 237 C682.5 237.3 685.5 237.8 688.6 238.4 C691.7 239 694.7 239.7 697.7 240.5 C700.7 241.2 703.7 242.1 706.7 243.1 C709.7 244 712.6 245.1 715.6 246.2 C718.5 247.4 721.4 248.6 724.2 249.9 C727.1 251.2 730 252.5 732.8 254 C735.6 255.4 738.4 256.9 741.1 258.5 C743.8 260.1 746.5 261.7 749.2 263.4 C751.9 265.1 754.5 266.8 757.2 268.6 C759.8 270.4 762.3 272.3 764.9 274.1 C767.4 276 769.9 278 772.4 280 C774.9 281.9 777.3 283.9 779.7 286 C782.1 288 784.5 290.1 786.8 292.3 C789.2 294.4 791.5 296.5 793.7 298.7 C796 300.9 798.3 303.1 800.5 305.3 C802.7 307.6 804.9 309.8 807 312.1 C809.2 314.4 811.3 316.7 813.4 319.1 C815.5 321.4 817.5 323.7 819.6 326.1 C821.6 328.5 823.6 330.9 825.6 333.3 C827.6 335.7 829.6 338.1 831.5 340.6 C833.5 343.1 835.4 345.5 837.2 348 C839.1 350.5 841 353 842.8 355.6 C844.7 358.1 846.5 360.6 848.2 363.2 C850 365.8 851.8 368.4 853.5 371 C855.2 373.6 856.9 376.2 858.6 378.9 C860.3 381.5 861.9 384.2 863.5 386.9 C865.2 389.6 866.7 392.3 868.3 395 C869.8 397.7 871.4 400.5 872.8 403.3 C874.3 406 875.8 408.8 877.2 411.7 C878.6 414.5 880 417.3 881.3 420.2 C882.6 423 883.9 425.9 885.2 428.8 C886.4 431.7 887.6 434.6 888.8 437.5 C889.9 440.5 891.1 443.4 892.1 446.4 C893.2 449.4 894.2 452.4 895.2 455.4 C896.1 458.4 897.1 461.4 897.9 464.4 C898.8 467.5 899.6 470.5 900.4 473.6 C901.2 476.6 901.9 479.7 902.5 482.8 C903.2 485.9 903.8 488.9 904.4 492 C905 495.1 905.5 498.2 906 501.4 C906.5 504.5 906.9 507.6 907.4 510.7 C907.8 513.8 908.1 516.9 908.5 520 C908.9 523.2 909.2 526.3 909.6 529.4 C909.9 532.5 910.2 535.6 910.6 538.7 C910.9 541.8 911.5 546.5 911.7 548 C911.6 549.4 911.3 553.5 911 556.4 C910.7 559.2 910.4 562.2 910 565.1 C909.6 568.1 909.2 571.1 908.7 574 C908.1 577 907.5 580 906.8 582.9 C906.1 585.9 905.3 588.8 904.4 591.7 C903.5 594.5 902.5 597.4 901.4 600.2 C900.3 602.9 899.1 605.7 897.8 608.3 C896.5 611 895.1 613.6 893.6 616.1 C892.1 618.6 890.5 621.1 888.8 623.5 C887.1 625.9 885.3 628.2 883.4 630.5 C881.6 632.8 879.6 635 877.6 637.1 C875.6 639.2 873.5 641.3 871.4 643.3 C869.2 645.4 867 647.3 864.7 649.2 C862.5 651.2 860.2 653 857.8 654.9 C855.5 656.7 853.1 658.5 850.7 660.2 C848.3 662 845.8 663.7 843.4 665.4 C840.9 667.1 838.4 668.8 835.9 670.4 C833.4 672.1 830.9 673.7 828.4 675.4 C825.9 677 823.4 678.6 820.9 680.2 C818.3 681.8 815.8 683.5 813.3 685.1 C810.8 686.7 808.3 688.3 805.8 689.9 C803.3 691.5 800.8 693.1 798.3 694.8 C795.9 696.4 793.4 698 790.9 699.6 C788.5 701.3 786 702.9 783.6 704.6 C781.1 706.2 778.7 707.9 776.2 709.5 C773.8 711.2 771.4 712.9 768.9 714.5 C766.5 716.2 764 717.8 761.6 719.5 C759.2 721.1 756.7 722.8 754.2 724.4 C751.8 726 749.3 727.7 746.8 729.3 C744.3 730.9 741.8 732.4 739.3 734 C736.7 735.5 734.2 737 731.6 738.5 C729 739.9 726.4 741.4 723.8 742.7 C721.1 744.1 718.4 745.4 715.7 746.6 C713 747.8 710.3 749 707.5 750.1 C704.7 751.2 701.9 752.2 699 753.1 C696.2 754 693.3 754.8 690.4 755.5 C687.5 756.2 684.6 756.8 681.7 757.3 C678.7 757.8 675.8 758.2 672.8 758.4 C669.9 758.6 665.5 758.7 664 758.7 C662.2 758.4 656.3 757.4 653.4 757.1 C650.6 756.8 649.1 756.8 646.9 756.6 C644.7 756.4 642.5 756.2 640.4 755.9 C638.2 755.6 636.1 755.3 633.9 754.9 C631.8 754.5 629.6 754.1 627.5 753.7 C625.4 753.2 623.3 752.7 621.2 752.2 C619.1 751.7 617 751.1 614.9 750.5 C612.8 749.9 610.7 749.3 608.7 748.6 C606.6 747.9 604.5 747.2 602.5 746.4 C600.5 745.7 598.4 744.9 596.4 744.1 C594.4 743.3 592.4 742.4 590.4 741.6 C588.4 740.7 586.4 739.8 584.5 738.8 C582.5 737.9 580.6 736.9 578.6 735.9 C576.7 734.9 574.8 733.9 572.9 732.9 C571 731.8 569.1 730.7 567.2 729.6 C565.3 728.5 563.5 727.4 561.6 726.2 C559.8 725.1 557.9 723.9 556.1 722.7 C554.3 721.5 552.5 720.2 550.7 719 C548.9 717.7 547.2 716.5 545.4 715.2 C543.7 713.9 541.9 712.5 540.2 711.2 C538.5 709.9 536.8 708.5 535.1 707.1 C533.4 705.8 531.7 704.4 530.1 702.9 C528.4 701.5 526.8 700.1 525.2 698.7 C523.5 697.2 521.9 695.7 520.3 694.3 C518.7 692.8 517.1 691.3 515.6 689.8 C514 688.3 512.5 686.7 510.9 685.2 C509.4 683.7 507.9 682.1 506.4 680.5 C504.9 679 503.4 677.4 501.9 675.8 C500.4 674.2 498.2 671.8 497.5 671 L432.5 568 C431.6 565.7 428.3 557.8 427 554 C425.7 550.2 425.1 548.8 424.5 545 C423.9 541.2 423.7 533.3 423.5 531 L440.3 521 L442.4 431 L440 421.3 L440 414Z" fill="none" stroke="#141414" stroke-width="3.3" stroke-linecap="round" stroke-linejoin="round" />
<path d="M558.3 277.5 C559.5 277.3 563.2 276.4 565.6 276 C568 275.6 570.4 275.3 572.8 275 C575.2 274.8 577.5 274.6 579.9 274.5 C582.2 274.4 584.6 274.4 586.9 274.4 C589.3 274.5 591.6 274.5 593.9 274.7 C596.3 274.8 598.6 275 600.9 275.3 C603.2 275.5 605.6 275.8 607.9 276.2 C610.2 276.5 612.5 276.9 614.8 277.3 C617.1 277.7 619.4 278.2 621.7 278.7 C624 279.2 626.3 279.8 628.6 280.3 C630.9 280.9 633.2 281.5 635.5 282.2 C637.7 282.8 640 283.5 642.3 284.2 C644.5 285 646.8 285.7 649 286.5 C651.3 287.3 653.5 288.1 655.8 289 C658 289.8 660.2 290.7 662.4 291.7 C664.6 292.6 666.8 293.5 668.9 294.5 C671.1 295.5 673.3 296.5 675.4 297.6 C677.5 298.7 679.6 299.8 681.7 300.9 C683.8 302 685.9 303.2 687.9 304.4 C690 305.6 692 306.8 694 308 C696 309.3 698 310.6 700 311.9 C701.9 313.3 703.8 314.6 705.7 316 C707.7 317.4 709.5 318.8 711.4 320.3 C713.2 321.7 715.1 323.2 716.9 324.7 C718.7 326.3 720.5 327.8 722.2 329.4 C724 330.9 725.8 332.5 727.5 334.2 C729.2 335.8 730.9 337.4 732.6 339.1 C734.3 340.7 735.9 342.4 737.6 344.1 C739.3 345.8 740.9 347.5 742.5 349.2 C744.2 350.9 745.8 352.7 747.4 354.4 C749.1 356.1 750.7 357.8 752.3 359.5 C754 361.2 755.6 362.9 757.3 364.6 C759 366.3 760.6 368 762.3 369.6 C764.1 371.3 765.8 372.9 767.6 374.4 C769.3 376 772.1 378.2 773 379" fill="none" stroke="#141414" stroke-width="3.3" stroke-linecap="round" stroke-linejoin="round" />
<path d="M805 416.7 C805.7 418 808 422 809.4 424.7 C810.7 427.4 812.1 430.2 813.3 432.9 C814.6 435.7 815.8 438.4 817 441.2 C818.1 444 819.2 446.8 820.3 449.7 C821.4 452.5 822.4 455.3 823.4 458.2 C824.4 461 825.4 463.9 826.3 466.8 C827.3 469.6 828.2 472.5 829.1 475.4 C830 478.3 830.9 481.2 831.8 484 C832.7 486.9 833.6 489.8 834.5 492.7 C835.4 495.6 836.3 498.5 837.2 501.4 C838.1 504.3 839.5 508.6 840 510" fill="none" stroke="#141414" stroke-width="3.3" stroke-linecap="round" stroke-linejoin="round" />
<path d="M517.3 300.7 C518.5 300.5 522.1 299.8 524.6 299.5 C527 299.1 529.5 298.8 531.9 298.6 C534.4 298.3 536.9 298.1 539.3 297.9 C541.8 297.8 544.3 297.7 546.8 297.6 C549.3 297.5 551.8 297.4 554.3 297.4 C556.8 297.4 559.3 297.4 561.8 297.5 C564.3 297.6 566.8 297.7 569.3 297.8 C571.9 297.9 574.4 298.1 576.9 298.3 C579.4 298.5 581.9 298.7 584.4 299 C586.9 299.3 589.4 299.6 592 299.9 C594.5 300.2 597 300.6 599.4 301 C601.9 301.4 604.4 301.9 606.9 302.4 C609.3 302.9 611.8 303.4 614.2 304 C616.7 304.5 619.1 305.1 621.5 305.8 C623.9 306.5 626.3 307.2 628.7 307.9 C631.1 308.6 633.5 309.4 635.8 310.3 C638.1 311.1 640.5 312 642.8 312.9 C645 313.8 647.3 314.8 649.6 315.8 C651.8 316.9 654 317.9 656.2 319.1 C658.4 320.2 660.6 321.4 662.7 322.6 C664.9 323.8 667 325.1 669.1 326.4 C671.2 327.8 673.2 329.1 675.3 330.6 C677.3 332 679.3 333.5 681.2 335 C683.2 336.6 685.2 338.1 687.1 339.8 C689 341.4 690.8 343.1 692.7 344.8 C694.5 346.5 696.4 348.3 698.1 350 C699.9 351.8 701.7 353.7 703.4 355.5 C705.2 357.4 706.9 359.3 708.5 361.2 C710.2 363.2 711.9 365.1 713.5 367.1 C715.2 369.1 716.8 371.1 718.4 373 C720 375 721.5 377 723.1 379 C724.6 381 726.2 383 727.7 385 C729.3 387 730.8 389 732.3 390.9 C733.8 392.8 735.3 394.7 736.8 396.6 C738.4 398.4 740.6 401.1 741.4 402" fill="none" stroke="#141414" stroke-width="3.3" stroke-linecap="round" stroke-linejoin="round" />
<path d="M768 441.7 C769.7 445.2 774.7 455.8 778 463 C781.3 470.2 785 477.5 788 485 C791 492.5 793.8 500.8 796 508 C798.2 515.2 800.6 524.7 801.5 528" fill="none" stroke="#141414" stroke-width="3.3" stroke-linecap="round" stroke-linejoin="round" />
<path d="M836.7 628 C835.6 631.4 832.4 641.8 830 648.4 C827.6 655 825.5 661.6 822.4 667.9 C819.3 674.2 813.4 683.2 811.6 686.3" fill="none" stroke="#141414" stroke-width="3.3" stroke-linecap="round" stroke-linejoin="round" />
<path d="M814 631.7 C813.4 635 812.2 645.7 810.5 651.7 C808.8 657.7 806.5 662.5 804 667.9 C801.5 673.3 798.2 679.3 795.3 684.2 C792.4 689.1 789.4 693.3 786.7 697.2 C784 701.1 780.3 705.8 779 707.5" fill="none" stroke="#141414" stroke-width="3.3" stroke-linecap="round" stroke-linejoin="round" />
<path d="M806.2 647.9 C805.5 650.3 803.6 657.7 801.8 662.5 C800 667.3 797.8 671.9 795.3 676.6 C792.8 681.3 789.6 686.2 786.7 690.7 C783.8 695.2 780.7 700.1 778 703.7 C775.3 707.3 773.1 709.8 770.4 712.3 C767.7 714.8 763.4 717.9 762 719" fill="none" stroke="#141414" stroke-width="3.3" stroke-linecap="round" stroke-linejoin="round" />
<path d="M868 627 l5 -7 m-1 5 l4 -6" fill="none" stroke="#c3cbd4" stroke-width="1.6" stroke-linecap="round"/>
<path d="M860 640 l5 -7 m-1 5 l4 -6" fill="none" stroke="#c3cbd4" stroke-width="1.6" stroke-linecap="round"/>
<path d="M846 655 l5 -7 m-1 5 l4 -6" fill="none" stroke="#c3cbd4" stroke-width="1.6" stroke-linecap="round"/>
<path d="M898.8 463 C900.6 462 906.7 457.7 910 457 C913.3 456.3 916.7 456.6 918.8 458.8 C920.8 460.9 922.3 465.5 922.5 470 C922.7 474.5 921.5 481 920 486 C918.5 491 915.6 496.4 913.8 500 C911.9 503.6 909.6 506.2 908.8 507.5 C908.1 503.9 906.7 493.4 905 486 C903.3 478.6 899.8 466.8 898.8 463Z" fill="#a2a8ae" stroke="#141414" stroke-width="3.3" stroke-linejoin="round" stroke-linecap="round" />
<path d="M916 461 C916.7 462.8 919.8 467.7 920 472 C920.2 476.3 919 482.2 917.5 487 C916 491.8 912.1 498.7 911 501 C912 499 915.6 493.7 917 489 C918.4 484.3 919.7 477.7 919.5 473 C919.3 468.3 916.6 463 916 461Z" fill="#d9dde2" stroke="none" />
<path d="M898.8 463 C900.6 462 906.7 457.7 910 457 C913.3 456.3 916.7 456.6 918.8 458.8 C920.8 460.9 922.3 465.5 922.5 470 C922.7 474.5 921.5 481 920 486 C918.5 491 915.6 496.4 913.8 500 C911.9 503.6 909.6 506.2 908.8 507.5 C908.1 503.9 906.7 493.4 905 486 C903.3 478.6 899.8 466.8 898.8 463Z" fill="none" stroke="#141414" stroke-width="3.3" stroke-linecap="round" stroke-linejoin="round" />
<path d="M415.3 408.7 C415.7 407.7 417 404.9 417.9 402.9 C418.8 401 419.6 399 420.5 397 C421.4 395 422.2 393 423.1 391 C424.1 389 425 387 425.9 385 C426.9 383 427.9 381 428.9 379 C429.9 377 430.9 375.1 432 373.2 C433.1 371.2 434.2 369.3 435.4 367.5 C436.5 365.6 437.7 363.8 439 361.9 C440.2 360.1 441.5 358.4 442.8 356.6 C444.1 354.9 445.5 353.2 446.9 351.5 C448.3 349.9 449.7 348.2 451.2 346.6 C452.7 345 454.2 343.5 455.7 342 C457.3 340.5 458.9 339 460.5 337.6 C462.1 336.1 463.8 334.7 465.5 333.3 C467.2 332 468.9 330.6 470.6 329.3 C472.4 328 474.1 326.7 475.9 325.5 C477.7 324.2 479.5 323 481.3 321.8 C483.2 320.6 485 319.4 486.9 318.2 C488.7 317.1 490.6 315.9 492.5 314.8 C494.3 313.7 497.2 312 498.1 311.5 C499.9 311.2 505.6 310.4 508.6 309.9 C511.5 309.4 513.4 308.8 515.8 308.4 C518.2 308.1 520.6 307.8 523 307.6 C525.4 307.4 527.8 307.3 530.2 307.2 C532.6 307.2 535 307.2 537.4 307.3 C539.9 307.4 542.3 307.5 544.7 307.7 C547.1 308 549.5 308.2 551.9 308.5 C554.3 308.8 556.7 309.2 559.2 309.6 C561.6 310 564 310.4 566.4 310.9 C568.8 311.4 571.2 311.9 573.6 312.4 C576 313 578.4 313.6 580.8 314.2 C583.1 314.8 585.5 315.5 587.9 316.2 C590.3 316.9 592.6 317.6 595 318.3 C597.3 319.1 599.6 319.9 601.9 320.7 C604.3 321.6 606.6 322.4 608.8 323.3 C611.1 324.2 613.4 325.1 615.6 326.1 C617.9 327.1 620.1 328.1 622.3 329.1 C624.5 330.2 626.7 331.3 628.8 332.4 C631 333.5 633.1 334.7 635.2 335.9 C637.3 337.1 639.4 338.3 641.4 339.6 C643.5 340.9 645.5 342.2 647.5 343.5 C649.5 344.9 651.5 346.3 653.4 347.7 C655.4 349.2 657.3 350.7 659.2 352.2 C661.1 353.7 662.9 355.3 664.7 356.9 C666.6 358.5 668.4 360.1 670.2 361.8 C672 363.4 673.7 365.1 675.5 366.9 C677.2 368.6 678.9 370.3 680.6 372.1 C682.3 373.9 684 375.7 685.7 377.5 C687.3 379.3 689 381.2 690.7 383 C692.3 384.9 694 386.7 695.6 388.6 C697.3 390.4 698.9 392.2 700.6 394.1 C702.2 395.9 703.9 397.7 705.6 399.5 C707.3 401.2 709 403 710.7 404.7 C712.5 406.4 714.2 408 716 409.6 C717.8 411.2 720.7 413.3 721.6 414.1 L718.8 447 L746 455 C748.3 461.3 755.7 481.2 760 493 C764.3 504.8 768.5 516.8 772 526 C775.5 535.2 779.5 544.3 781 548 L757.3 541.3 L758.5 654.4 L785.6 664.1 C785.2 665.6 784.7 669.6 783.4 673.3 C782.1 677 780.4 681.8 778 686.3 C775.6 690.8 772.5 695.9 769.3 700.4 C766 704.9 762.8 709.1 758.5 713.4 C754.2 717.7 748.5 722.6 743.3 726.4 C738.1 730.2 732.5 733.3 727.1 736.2 C721.7 739.1 715.3 741.9 710.8 743.8 C706.3 745.7 705.1 746 700 747.6 C694.9 749.2 686.7 751.9 680 753.5 C673.3 755.1 663.3 756.7 660 757.3 C658.9 757.3 655.6 757.2 653.4 757.1 C651.2 757 649.1 756.8 646.9 756.6 C644.7 756.4 642.5 756.2 640.4 755.9 C638.2 755.6 636.1 755.3 633.9 754.9 C631.8 754.5 629.6 754.1 627.5 753.7 C625.4 753.2 623.3 752.7 621.2 752.2 C619.1 751.7 617 751.1 614.9 750.5 C612.8 749.9 610.7 749.3 608.7 748.6 C606.6 747.9 604.5 747.2 602.5 746.4 C600.5 745.7 598.4 744.9 596.4 744.1 C594.4 743.3 592.4 742.4 590.4 741.6 C588.4 740.7 586.4 739.8 584.5 738.8 C582.5 737.9 580.6 736.9 578.6 735.9 C576.7 734.9 574.8 733.9 572.9 732.9 C571 731.8 569.1 730.7 567.2 729.6 C565.3 728.5 563.5 727.4 561.6 726.2 C559.8 725.1 557.9 723.9 556.1 722.7 C554.3 721.5 552.5 720.2 550.7 719 C548.9 717.7 547.2 716.5 545.4 715.2 C543.7 713.9 541.9 712.5 540.2 711.2 C538.5 709.9 536.8 708.5 535.1 707.1 C533.4 705.8 531.7 704.4 530.1 702.9 C528.4 701.5 526.8 700.1 525.2 698.7 C523.5 697.2 521.9 695.7 520.3 694.3 C518.7 692.8 517.1 691.3 515.6 689.8 C514 688.3 512.5 686.7 510.9 685.2 C509.4 683.7 507.9 682.1 506.4 680.5 C504.9 679 503.4 677.4 501.9 675.8 C500.4 674.2 498.2 671.8 497.5 671 L432.5 568 C431.6 565.7 428.3 557.8 427 554 C425.7 550.2 425.1 548.8 424.5 545 C423.9 541.2 423.7 533.3 423.5 531 L440.3 521 L442.4 431 L440 421.3 L440 414Z" fill="url(#gFace)" stroke="#141414" stroke-width="3.3" stroke-linejoin="round" stroke-linecap="round" />
<clipPath id="cFace"><path d="M415.3 408.7 C415.7 407.7 417 404.9 417.9 402.9 C418.8 401 419.6 399 420.5 397 C421.4 395 422.2 393 423.1 391 C424.1 389 425 387 425.9 385 C426.9 383 427.9 381 428.9 379 C429.9 377 430.9 375.1 432 373.2 C433.1 371.2 434.2 369.3 435.4 367.5 C436.5 365.6 437.7 363.8 439 361.9 C440.2 360.1 441.5 358.4 442.8 356.6 C444.1 354.9 445.5 353.2 446.9 351.5 C448.3 349.9 449.7 348.2 451.2 346.6 C452.7 345 454.2 343.5 455.7 342 C457.3 340.5 458.9 339 460.5 337.6 C462.1 336.1 463.8 334.7 465.5 333.3 C467.2 332 468.9 330.6 470.6 329.3 C472.4 328 474.1 326.7 475.9 325.5 C477.7 324.2 479.5 323 481.3 321.8 C483.2 320.6 485 319.4 486.9 318.2 C488.7 317.1 490.6 315.9 492.5 314.8 C494.3 313.7 497.2 312 498.1 311.5 C499.9 311.2 505.6 310.4 508.6 309.9 C511.5 309.4 513.4 308.8 515.8 308.4 C518.2 308.1 520.6 307.8 523 307.6 C525.4 307.4 527.8 307.3 530.2 307.2 C532.6 307.2 535 307.2 537.4 307.3 C539.9 307.4 542.3 307.5 544.7 307.7 C547.1 308 549.5 308.2 551.9 308.5 C554.3 308.8 556.7 309.2 559.2 309.6 C561.6 310 564 310.4 566.4 310.9 C568.8 311.4 571.2 311.9 573.6 312.4 C576 313 578.4 313.6 580.8 314.2 C583.1 314.8 585.5 315.5 587.9 316.2 C590.3 316.9 592.6 317.6 595 318.3 C597.3 319.1 599.6 319.9 601.9 320.7 C604.3 321.6 606.6 322.4 608.8 323.3 C611.1 324.2 613.4 325.1 615.6 326.1 C617.9 327.1 620.1 328.1 622.3 329.1 C624.5 330.2 626.7 331.3 628.8 332.4 C631 333.5 633.1 334.7 635.2 335.9 C637.3 337.1 639.4 338.3 641.4 339.6 C643.5 340.9 645.5 342.2 647.5 343.5 C649.5 344.9 651.5 346.3 653.4 347.7 C655.4 349.2 657.3 350.7 659.2 352.2 C661.1 353.7 662.9 355.3 664.7 356.9 C666.6 358.5 668.4 360.1 670.2 361.8 C672 363.4 673.7 365.1 675.5 366.9 C677.2 368.6 678.9 370.3 680.6 372.1 C682.3 373.9 684 375.7 685.7 377.5 C687.3 379.3 689 381.2 690.7 383 C692.3 384.9 694 386.7 695.6 388.6 C697.3 390.4 698.9 392.2 700.6 394.1 C702.2 395.9 703.9 397.7 705.6 399.5 C707.3 401.2 709 403 710.7 404.7 C712.5 406.4 714.2 408 716 409.6 C717.8 411.2 720.7 413.3 721.6 414.1 L718.8 447 L746 455 C748.3 461.3 755.7 481.2 760 493 C764.3 504.8 768.5 516.8 772 526 C775.5 535.2 779.5 544.3 781 548 L757.3 541.3 L758.5 654.4 L785.6 664.1 C785.2 665.6 784.7 669.6 783.4 673.3 C782.1 677 780.4 681.8 778 686.3 C775.6 690.8 772.5 695.9 769.3 700.4 C766 704.9 762.8 709.1 758.5 713.4 C754.2 717.7 748.5 722.6 743.3 726.4 C738.1 730.2 732.5 733.3 727.1 736.2 C721.7 739.1 715.3 741.9 710.8 743.8 C706.3 745.7 705.1 746 700 747.6 C694.9 749.2 686.7 751.9 680 753.5 C673.3 755.1 663.3 756.7 660 757.3 C658.9 757.3 655.6 757.2 653.4 757.1 C651.2 757 649.1 756.8 646.9 756.6 C644.7 756.4 642.5 756.2 640.4 755.9 C638.2 755.6 636.1 755.3 633.9 754.9 C631.8 754.5 629.6 754.1 627.5 753.7 C625.4 753.2 623.3 752.7 621.2 752.2 C619.1 751.7 617 751.1 614.9 750.5 C612.8 749.9 610.7 749.3 608.7 748.6 C606.6 747.9 604.5 747.2 602.5 746.4 C600.5 745.7 598.4 744.9 596.4 744.1 C594.4 743.3 592.4 742.4 590.4 741.6 C588.4 740.7 586.4 739.8 584.5 738.8 C582.5 737.9 580.6 736.9 578.6 735.9 C576.7 734.9 574.8 733.9 572.9 732.9 C571 731.8 569.1 730.7 567.2 729.6 C565.3 728.5 563.5 727.4 561.6 726.2 C559.8 725.1 557.9 723.9 556.1 722.7 C554.3 721.5 552.5 720.2 550.7 719 C548.9 717.7 547.2 716.5 545.4 715.2 C543.7 713.9 541.9 712.5 540.2 711.2 C538.5 709.9 536.8 708.5 535.1 707.1 C533.4 705.8 531.7 704.4 530.1 702.9 C528.4 701.5 526.8 700.1 525.2 698.7 C523.5 697.2 521.9 695.7 520.3 694.3 C518.7 692.8 517.1 691.3 515.6 689.8 C514 688.3 512.5 686.7 510.9 685.2 C509.4 683.7 507.9 682.1 506.4 680.5 C504.9 679 503.4 677.4 501.9 675.8 C500.4 674.2 498.2 671.8 497.5 671 L432.5 568 C431.6 565.7 428.3 557.8 427 554 C425.7 550.2 425.1 548.8 424.5 545 C423.9 541.2 423.7 533.3 423.5 531 L440.3 521 L442.4 431 L440 421.3 L440 414Z"/></clipPath>
<path d="M612 486 L800 380 L860 480 L672 586Z" fill="url(#gRefl)" clip-path="url(#cFace)"/>
<path d="M415.3 408.7 C415.7 407.7 417 404.9 417.9 402.9 C418.8 401 419.6 399 420.5 397 C421.4 395 422.2 393 423.1 391 C424.1 389 425 387 425.9 385 C426.9 383 427.9 381 428.9 379 C429.9 377 430.9 375.1 432 373.2 C433.1 371.2 434.2 369.3 435.4 367.5 C436.5 365.6 437.7 363.8 439 361.9 C440.2 360.1 441.5 358.4 442.8 356.6 C444.1 354.9 445.5 353.2 446.9 351.5 C448.3 349.9 449.7 348.2 451.2 346.6 C452.7 345 454.2 343.5 455.7 342 C457.3 340.5 458.9 339 460.5 337.6 C462.1 336.1 463.8 334.7 465.5 333.3 C467.2 332 468.9 330.6 470.6 329.3 C472.4 328 474.1 326.7 475.9 325.5 C477.7 324.2 479.5 323 481.3 321.8 C483.2 320.6 485 319.4 486.9 318.2 C488.7 317.1 490.6 315.9 492.5 314.8 C494.3 313.7 497.2 312 498.1 311.5 C499.9 311.2 505.6 310.4 508.6 309.9 C511.5 309.4 513.4 308.8 515.8 308.4 C518.2 308.1 520.6 307.8 523 307.6 C525.4 307.4 527.8 307.3 530.2 307.2 C532.6 307.2 535 307.2 537.4 307.3 C539.9 307.4 542.3 307.5 544.7 307.7 C547.1 308 549.5 308.2 551.9 308.5 C554.3 308.8 556.7 309.2 559.2 309.6 C561.6 310 564 310.4 566.4 310.9 C568.8 311.4 571.2 311.9 573.6 312.4 C576 313 578.4 313.6 580.8 314.2 C583.1 314.8 585.5 315.5 587.9 316.2 C590.3 316.9 592.6 317.6 595 318.3 C597.3 319.1 599.6 319.9 601.9 320.7 C604.3 321.6 606.6 322.4 608.8 323.3 C611.1 324.2 613.4 325.1 615.6 326.1 C617.9 327.1 620.1 328.1 622.3 329.1 C624.5 330.2 626.7 331.3 628.8 332.4 C631 333.5 633.1 334.7 635.2 335.9 C637.3 337.1 639.4 338.3 641.4 339.6 C643.5 340.9 645.5 342.2 647.5 343.5 C649.5 344.9 651.5 346.3 653.4 347.7 C655.4 349.2 657.3 350.7 659.2 352.2 C661.1 353.7 662.9 355.3 664.7 356.9 C666.6 358.5 668.4 360.1 670.2 361.8 C672 363.4 673.7 365.1 675.5 366.9 C677.2 368.6 678.9 370.3 680.6 372.1 C682.3 373.9 684 375.7 685.7 377.5 C687.3 379.3 689 381.2 690.7 383 C692.3 384.9 694 386.7 695.6 388.6 C697.3 390.4 698.9 392.2 700.6 394.1 C702.2 395.9 703.9 397.7 705.6 399.5 C707.3 401.2 709 403 710.7 404.7 C712.5 406.4 714.2 408 716 409.6 C717.8 411.2 720.7 413.3 721.6 414.1 L718.8 447 L746 455 C748.3 461.3 755.7 481.2 760 493 C764.3 504.8 768.5 516.8 772 526 C775.5 535.2 779.5 544.3 781 548 L757.3 541.3 L758.5 654.4 L785.6 664.1 C785.2 665.6 784.7 669.6 783.4 673.3 C782.1 677 780.4 681.8 778 686.3 C775.6 690.8 772.5 695.9 769.3 700.4 C766 704.9 762.8 709.1 758.5 713.4 C754.2 717.7 748.5 722.6 743.3 726.4 C738.1 730.2 732.5 733.3 727.1 736.2 C721.7 739.1 715.3 741.9 710.8 743.8 C706.3 745.7 705.1 746 700 747.6 C694.9 749.2 686.7 751.9 680 753.5 C673.3 755.1 663.3 756.7 660 757.3 C658.9 757.3 655.6 757.2 653.4 757.1 C651.2 757 649.1 756.8 646.9 756.6 C644.7 756.4 642.5 756.2 640.4 755.9 C638.2 755.6 636.1 755.3 633.9 754.9 C631.8 754.5 629.6 754.1 627.5 753.7 C625.4 753.2 623.3 752.7 621.2 752.2 C619.1 751.7 617 751.1 614.9 750.5 C612.8 749.9 610.7 749.3 608.7 748.6 C606.6 747.9 604.5 747.2 602.5 746.4 C600.5 745.7 598.4 744.9 596.4 744.1 C594.4 743.3 592.4 742.4 590.4 741.6 C588.4 740.7 586.4 739.8 584.5 738.8 C582.5 737.9 580.6 736.9 578.6 735.9 C576.7 734.9 574.8 733.9 572.9 732.9 C571 731.8 569.1 730.7 567.2 729.6 C565.3 728.5 563.5 727.4 561.6 726.2 C559.8 725.1 557.9 723.9 556.1 722.7 C554.3 721.5 552.5 720.2 550.7 719 C548.9 717.7 547.2 716.5 545.4 715.2 C543.7 713.9 541.9 712.5 540.2 711.2 C538.5 709.9 536.8 708.5 535.1 707.1 C533.4 705.8 531.7 704.4 530.1 702.9 C528.4 701.5 526.8 700.1 525.2 698.7 C523.5 697.2 521.9 695.7 520.3 694.3 C518.7 692.8 517.1 691.3 515.6 689.8 C514 688.3 512.5 686.7 510.9 685.2 C509.4 683.7 507.9 682.1 506.4 680.5 C504.9 679 503.4 677.4 501.9 675.8 C500.4 674.2 498.2 671.8 497.5 671 L432.5 568 C431.6 565.7 428.3 557.8 427 554 C425.7 550.2 425.1 548.8 424.5 545 C423.9 541.2 423.7 533.3 423.5 531 L440.3 521 L442.4 431 L440 421.3 L440 414Z" fill="none" stroke="#141414" stroke-width="3.3" stroke-linecap="round" stroke-linejoin="round" />
<path d="M423.5 531 L440.3 521 L440.6 537.5Z" fill="#d3dbe4" stroke="#141414" stroke-width="3.0" stroke-linejoin="round" stroke-linecap="round" />
<path d="M721.6 414.1 L740.8 403.6 L746.1 430.4 L717.5 446.8Z" fill="#d6dadf" stroke="#141414" stroke-width="3.3" stroke-linejoin="round" stroke-linecap="round" />
<path d="M717.5 446.8 L746.1 430.4 L768.8 442.7 L746.1 454.9Z" fill="#cfd4da" stroke="#141414" stroke-width="3.3" stroke-linejoin="round" stroke-linecap="round" />
<path d="M740.8 403.6 L742.6 396 C744.5 397.6 749.9 402 753.7 405.3 C757.5 408.6 761.8 411.9 765.3 415.8 C768.8 419.7 772.4 425.1 774.7 428.7 C777 432.3 778.3 436 779 437.5 L768.8 442.7 L746.1 430.4Z" fill="#e4e8ec" stroke="#141414" stroke-width="3.3" stroke-linejoin="round" stroke-linecap="round" />
<path d="M742.6 396 C744.5 397.6 749.9 402 753.7 405.3 C757.5 408.6 761.8 411.9 765.3 415.8 C768.8 419.7 772 424.4 774.7 428.7 C777.4 433 780.5 439.4 781.7 441.5" fill="none" stroke="#141414" stroke-width="4.2" stroke-linecap="round" stroke-linejoin="round" />
<path d="M760 403 C761.7 404.4 766.4 407.7 770 411.2 C773.6 414.7 778.2 419.3 781.7 424 C785.2 428.7 789.5 436.7 791 439.2" fill="none" stroke="#141414" stroke-width="2.6" stroke-linecap="round" stroke-linejoin="round" />
<path d="M772.9 378.5 L812 359.3 C813.4 362.5 818.7 373 820.2 378.5 C821.8 384 822.3 387.4 821.3 392.5 C820.3 397.6 817.4 404.5 814.3 408.8 C811.2 413.1 806.6 416.2 802.7 418.2 C798.8 420.1 794.7 420.5 791 420.5 C787.3 420.5 783.2 419.4 780.5 418.2 C777.8 417 775.7 414.3 774.7 413.5 L765.3 401.8Z" fill="#bcc3cb" stroke="#141414" stroke-width="3.3" stroke-linejoin="round" stroke-linecap="round" />
<path d="M772.9 378.5 L812 359.3 C811.2 362.3 809.8 371.4 807.3 377.3 C804.8 383.2 800.5 390.1 796.8 394.8 C793.1 399.5 788.9 402.6 785.2 405.3 C781.5 408 776.5 410.2 774.7 411.2 L765.3 401.8Z" fill="#dde1e6" stroke="#141414" stroke-width="3.3" stroke-linejoin="round" stroke-linecap="round" />
<path d="M757.3 541.3 L781 548 L800 532 L810 518.5 L816 514.5 L831 517.5 L840 510 C841.7 509.2 846.2 506.5 850 505.5 C853.8 504.5 858.8 503.4 863 504 C867.2 504.6 871.3 506.3 875 509 C878.7 511.7 882.3 516.2 885 520 C887.7 523.8 889.6 527.7 891 532 C892.4 536.3 893.2 541.3 893.5 546 C893.8 550.7 893.8 554.5 893 560 C892.2 565.5 891.2 572.8 889 579 C886.8 585.2 884 591.2 880 597 C876 602.8 870 609.5 865 614 C860 618.5 854.5 621.3 850 624 C845.5 626.7 840 629 838 630 L836.7 628.3 L810 622.5 L788.8 638.1 L758.5 654.4Z" fill="#dfe3e8" stroke="#141414" stroke-width="3.3" stroke-linejoin="round" stroke-linecap="round" />
<path d="M863 504 C865 504.8 871.3 506.3 875 509 C878.7 511.7 882.3 516.2 885 520 C887.7 523.8 889.6 527.7 891 532 C892.4 536.3 893.2 541.3 893.5 546 C893.8 550.7 893.8 554.5 893 560 C892.2 565.5 891.2 572.8 889 579 C886.8 585.2 884 591.2 880 597 C876 602.8 870 609.5 865 614 C860 618.5 854.5 621.3 850 624 C845.5 626.7 840 629 838 630 L833 625 C834.5 624 838.2 621.7 842 619 C845.8 616.3 851.5 613.3 856 609 C860.5 604.7 865.3 598.3 869 593 C872.7 587.7 875.8 582.5 878 577 C880.2 571.5 881.5 566.2 882.5 560 C883.5 553.8 884.4 546.3 884 540 C883.6 533.7 882.3 527.5 880 522 C877.7 516.5 871.7 509.5 870 507Z" fill="#f3f5f7" stroke="#141414" stroke-width="3.3" stroke-linejoin="round" stroke-linecap="round" />
<path d="M870 507 C871.7 509.5 877.7 516.5 880 522 C882.3 527.5 883.6 533.7 884 540 C884.4 546.3 883.5 553.8 882.5 560 C881.5 566.2 880.2 571.5 878 577 C875.8 582.5 872.7 587.7 869 593 C865.3 598.3 860.5 604.7 856 609 C851.5 613.3 845.8 616.3 842 619 C838.2 621.7 834.5 624 833 625 L814 629 L810 620 C810.8 619.3 812.5 618 815 616 C817.5 614 821.5 611 825 608 C828.5 605 832.7 601.5 836 598 C839.3 594.5 842.2 591.3 845 587 C847.8 582.7 851 576.8 853 572 C855 567.2 855.8 563.3 857 558 C858.2 552.7 859.7 545.5 860 540 C860.3 534.5 860 530.2 859 525 C858 519.8 854.8 511.2 854 508.5 L862 504Z" fill="#b8bcc2" stroke="#141414" stroke-width="3.3" stroke-linejoin="round" stroke-linecap="round" />
<path d="M854 508.5 C854.8 511.2 858 519.8 859 525 C860 530.2 860.3 534.5 860 540 C859.7 545.5 858.2 552.7 857 558 C855.8 563.3 855 567.2 853 572 C851 576.8 847.8 582.7 845 587 C842.2 591.3 839.3 594.5 836 598 C832.7 601.5 828.5 605 825 608 C821.5 611 817.5 614 815 616 C812.5 618 810.8 619.3 810 620 L804 606 L801 598 C801.7 598 802.3 599 805 598 C807.7 597 813.3 594.7 817 592 C820.7 589.3 824.3 585.7 827 582 C829.7 578.3 831.3 574.5 833 570 C834.7 565.5 835.8 560.8 837 555 C838.2 549.2 839.3 540.8 840 535 C840.7 529.2 841 524.2 841 520 C841 515.8 840.2 511.7 840 510 L848 506Z" fill="url(#gWall)" stroke="#141414" stroke-width="3.3" stroke-linejoin="round" stroke-linecap="round" />
<path d="M857 558 C856.3 560.3 855 567.2 853 572 C851 576.8 847.8 582.7 845 587 C842.2 591.3 839.3 594.5 836 598 C832.7 601.5 828.5 605 825 608 C821.5 611 817.5 614 815 616 C812.5 618 810.8 619.3 810 620" fill="none" stroke="#141414" stroke-width="4.6" stroke-linecap="round" stroke-linejoin="round" />
<path d="M816 514.5 L831 517.5 L840 510 C840.2 511.7 841 515.8 841 520 C841 524.2 840.7 529.2 840 535 C839.3 540.8 838.2 549.2 837 555 C835.8 560.8 834.7 565.5 833 570 C831.3 574.5 829.7 578.3 827 582 C824.3 585.7 820.7 589.3 817 592 C813.3 594.7 807.7 597 805 598 C802.3 599 801.7 598 801 598 C800.8 597.2 801 596 800 593 C799 590 796.3 584.7 795 580 C793.7 575.3 792.3 570 792 565 C791.7 560 791.7 555.5 793 550 C794.3 544.5 797.2 537.2 800 532 C802.8 526.8 808.3 520.8 810 518.5Z" fill="url(#gDisc)" stroke="#141414" stroke-width="2.4" stroke-linejoin="round" stroke-linecap="round" />
<path d="M810 518.5 C808.3 520.8 802.8 526.8 800 532 C797.2 537.2 794.3 544.5 793 550 C791.7 555.5 791.7 560 792 565 C792.3 570 793.7 575.3 795 580 C796.3 584.7 799 590 800 593 C801 596 800.8 597.2 801 598" fill="none" stroke="#141414" stroke-width="3.3" stroke-linecap="round" stroke-linejoin="round" />
<path d="M781 548 L800 532 L810 518.5 L816 514.5 L831 517.5 L840 510" fill="none" stroke="#141414" stroke-width="3.3" stroke-linecap="round" stroke-linejoin="round" />
<path d="M762.8 653.3 L788.8 638.1 L804 646 L783.5 661.3Z" fill="url(#gFloor)" stroke="#141414" stroke-width="3.3" stroke-linejoin="round" stroke-linecap="round" />
<path d="M788.8 638.1 L810 622.5 L814 631.7 L804 646Z" fill="#c9ced4" stroke="#141414" stroke-width="3.3" stroke-linejoin="round" stroke-linecap="round" />
<path d="M810 622.5 L835 625 L836.7 628.3 L814 631.7Z" fill="#f4f6f8" stroke="#141414" stroke-width="2.6" stroke-linejoin="round" stroke-linecap="round" />
<path d="M538 490 C539.2 487.2 541.8 478.8 545.5 473.5 C549.2 468.2 554.8 462 560.5 458.5 C566.2 455 573 452.8 580 452.5 C587 452.2 595 453.5 602.5 457 C610 460.5 618 467 625 473.5 C632 480 638.8 488.2 644.5 496 C650.2 503.8 655.5 511.5 659.5 520 C663.5 528.5 666.7 538.2 668.5 547 C670.3 555.8 671.1 564.7 670.5 572.5 C669.9 580.3 667.6 588.4 665 594 C662.4 599.6 658.7 603.1 655 606 C651.3 608.9 647 610.7 643 611.5 C639 612.3 634.7 611.8 631 611 C627.3 610.2 623.5 608.2 621 607 C618.5 605.8 616.8 604.5 616 604 L536.5 496Z" fill="url(#gCollar)" stroke="#141414" stroke-width="3.3" stroke-linejoin="round" stroke-linecap="round" />
<path d="M627 497 C629.2 500 636.3 508.5 640 515 C643.7 521.5 646.8 529.2 649 536 C651.2 542.8 652.4 549.5 653 556 C653.6 562.5 653.5 569 652.5 575 C651.5 581 647.9 589.2 647 592" fill="none" stroke="#fff" stroke-width="4.5" stroke-linecap="round" opacity="0.95" filter="url(#fBlur)"/>
<path d="M620 500 C622.2 503.2 629.5 512.3 633 519 C636.5 525.7 639.2 533.2 641 540 C642.8 546.8 643.5 556.7 644 560" fill="none" stroke="#8f9baa" stroke-width="2.5" stroke-linecap="round" opacity="0.55" filter="url(#fBlur)"/>
<path d="M320 656.5 L536.2 496.2 C538.5 494.6 544.5 489 550 486.5 C555.5 484 563 481.7 569.5 481.5 C576 481.3 582.8 482.8 589 485.5 C595.2 488.2 601.5 492.5 607 497.5 C612.5 502.5 617.8 509.2 622 515.5 C626.2 521.8 629.9 528 632.5 535 C635.1 542 636.8 550 637.5 557.5 C638.2 565 637.9 573.6 637 580 C636.1 586.4 634.2 591.8 632 596 C629.8 600.2 626.4 603.1 624 605 C621.6 606.9 618.6 607.1 617.5 607.5 L366 738.8Z" fill="url(#gNose)" stroke="#141414" stroke-width="3.3" stroke-linejoin="round" stroke-linecap="round" />
<path d="M348.2 747.4 L344.2 748.5 L339.9 748.8 L335.5 748.2 L331 746.9 L326.5 744.9 L322.2 742.1 L318 738.7 L314 734.6 L310.3 730 L307.1 725 L304.2 719.5 L301.8 713.8 L300 707.9 L298.7 701.9 L297.9 695.9 L297.8 690 L298.2 684.3 L299.2 679 L300.7 674.1 L302.8 669.6 L305.4 665.8 L308.5 662.5 L312 660 L315.8 658.2 L319.8 657.1 L324.1 656.8 L328.5 657.4 L333 658.7 L337.5 660.7 L341.8 663.5 L346 666.9 L350 671 L353.7 675.6 L356.9 680.6 L359.8 686.1 L362.2 691.8 L364 697.7 L365.3 703.7 L366.1 709.7 L366.2 715.6 L365.8 721.3 L364.8 726.6 L363.3 731.5 L361.2 736 L358.6 739.8 L355.5 743.1 L352 745.6 L348.2 747.4Z" fill="#f3f5f8" stroke="#141414" stroke-width="3.3" stroke-linejoin="round" stroke-linecap="round" />
<path d="M341.4 726.7 L339.3 727.4 L337.2 727.6 L334.9 727.4 L332.6 726.9 L330.3 725.9 L328 724.6 L325.7 722.9 L323.6 720.9 L321.6 718.5 L319.8 716 L318.2 713.2 L316.8 710.3 L315.7 707.3 L314.8 704.2 L314.2 701.1 L314 698.1 L314 695.2 L314.3 692.4 L315 689.8 L315.9 687.5 L317.1 685.4 L318.5 683.7 L320.2 682.3 L322 681.3 L324.1 680.6 L326.2 680.4 L328.5 680.6 L330.8 681.1 L333.1 682.1 L335.4 683.4 L337.7 685.1 L339.8 687.1 L341.8 689.5 L343.6 692 L345.2 694.8 L346.6 697.7 L347.7 700.7 L348.6 703.8 L349.2 706.9 L349.4 709.9 L349.4 712.8 L349.1 715.6 L348.4 718.2 L347.5 720.5 L346.3 722.6 L344.9 724.3 L343.2 725.7 L341.4 726.7Z" fill="#a9aeb4" stroke="#141414" stroke-width="3.3" stroke-linejoin="round" stroke-linecap="round" />
<path d="M338 682 C339.8 684 346.7 689.7 349 694 C351.3 698.3 352.2 703.7 352 708 C351.8 712.3 350 716.8 348 720 C346 723.2 341.3 725.8 340 727 C340.5 725 342.5 719.5 343 715 C343.5 710.5 343.8 705.5 343 700 C342.2 694.5 338.8 685 338 682Z" fill="#c9cdd2" stroke="none" />
<path d="M341.4 726.7 L339.3 727.4 L337.2 727.6 L334.9 727.4 L332.6 726.9 L330.3 725.9 L328 724.6 L325.7 722.9 L323.6 720.9 L321.6 718.5 L319.8 716 L318.2 713.2 L316.8 710.3 L315.7 707.3 L314.8 704.2 L314.2 701.1 L314 698.1 L314 695.2 L314.3 692.4 L315 689.8 L315.9 687.5 L317.1 685.4 L318.5 683.7 L320.2 682.3 L322 681.3 L324.1 680.6 L326.2 680.4 L328.5 680.6 L330.8 681.1 L333.1 682.1 L335.4 683.4 L337.7 685.1 L339.8 687.1 L341.8 689.5 L343.6 692 L345.2 694.8 L346.6 697.7 L347.7 700.7 L348.6 703.8 L349.2 706.9 L349.4 709.9 L349.4 712.8 L349.1 715.6 L348.4 718.2 L347.5 720.5 L346.3 722.6 L344.9 724.3 L343.2 725.7 L341.4 726.7Z" fill="none" stroke="#141414" stroke-width="3.3" stroke-linecap="round" stroke-linejoin="round" />
<path d="M272.5 736.2 L434 641.6" fill="none" stroke="#141414" stroke-width="3.3" />
<path d="M445 635.2 L455 629.3" fill="none" stroke="#141414" stroke-width="3.3" />
<path d="M466 622.9 L628 527.9" fill="none" stroke="#141414" stroke-width="3.3" />
<path d="M639 521.5 L649 515.6" fill="none" stroke="#141414" stroke-width="3.3" />
<path d="M659.5 509.5 L820 415.4" fill="none" stroke="#141414" stroke-width="3.3" />
<path d="M834 407.2 L843 401.9" fill="none" stroke="#141414" stroke-width="3.3" />
<path d="M854 395.5 L1015 301.1" fill="none" stroke="#141414" stroke-width="3.3" />
<path d="M1026 294.7 L1036 288.8" fill="none" stroke="#141414" stroke-width="3.3" />
<path d="M185 680 L536 496.5" fill="none" stroke="#141414" stroke-width="3.7" />
<path d="M80 796.7 L320 657.5" fill="none" stroke="#141414" stroke-width="3.7" />
<path d="M150 783 L325 681" fill="none" stroke="#141414" stroke-width="3.7" />
<path d="M173 825 L337 728.5" fill="none" stroke="#141414" stroke-width="3.7" />
<path d="M126.7 880 L345 750" fill="none" stroke="#141414" stroke-width="3.7" />
<path d="M368 737 L368 1020.5" fill="none" stroke="#141414" stroke-width="3.7" />
<path d="M911.2 552 L911.2 709.3" fill="none" stroke="#141414" stroke-width="3.7" />
<path d="M590.7 870 L394.8 983.2" fill="none" stroke="#141414" stroke-width="3.7" />
<path d="M380.5 991.5 L392.1 974.7 L400.9 989.8 Z" fill="#141414"/>
<path d="M691.2 812.2 L888.1 698.5" fill="none" stroke="#141414" stroke-width="3.7" />
<path d="M902.4 690.3 L890.8 707.1 L882 692 Z" fill="#141414"/>
<path d="M311.7 503 L346.8 563.7" fill="none" stroke="#141414" stroke-width="3.7" />
<path d="M355 578 L338.2 566.4 L353.3 557.6 Z" fill="#141414"/>
<path d="M270 590 L279.9 605.4" fill="none" stroke="#141414" stroke-width="3.7" />
<path d="M288 618 L271.7 608.3 L286 599.1 Z" fill="#141414"/>
<path d="M125 701.7 L152.1 751.5" fill="none" stroke="#141414" stroke-width="3.7" />
<path d="M160 766 L143.5 753.9 L158.8 745.6 Z" fill="#141414"/>
<path d="M70 750 L80.6 768.7" fill="none" stroke="#141414" stroke-width="3.7" />
<path d="M88 781.7 L72.2 771.1 L87 762.7 Z" fill="#141414"/>
<path d="M229.3 886.7 L201.3 838.6" fill="none" stroke="#141414" stroke-width="3.7" />
<path d="M193 824.3 L209.9 835.9 L194.7 844.7 Z" fill="#141414"/>
<path d="M162.7 910.7 L153.6 893.3" fill="none" stroke="#141414" stroke-width="3.7" />
<path d="M146.7 880 L162.1 891.1 L147 899 Z" fill="#141414"/>
<path d="M953.5 501.5 L980.5 571.3 L1149.5 567.8" fill="none" stroke="#141414" stroke-width="3.7" stroke-linejoin="miter"/>
<text transform="translate(262 517) rotate(-30) scale(1 1.04)" font-size="50.5" >BD2</text>
<text transform="translate(243 590) rotate(-30) scale(1 1.04)" font-size="50.5" >3°</text>
<text transform="translate(89 864) rotate(-30) scale(1 1.04)" font-size="50.5" >BD</text>
<text transform="translate(170.7 974.7) rotate(-29.6) scale(1 1.04)" font-size="50.5" letter-spacing="-0.9">DCONWS</text>
<text transform="translate(609 880.2) rotate(-30) scale(1 1.04)" font-size="50.5" >LPR</text>
<text transform="translate(985.5 563.8) rotate(0) scale(1 1.04)" font-size="50.5" >HSK-A</text>
</svg>
</body></html>
